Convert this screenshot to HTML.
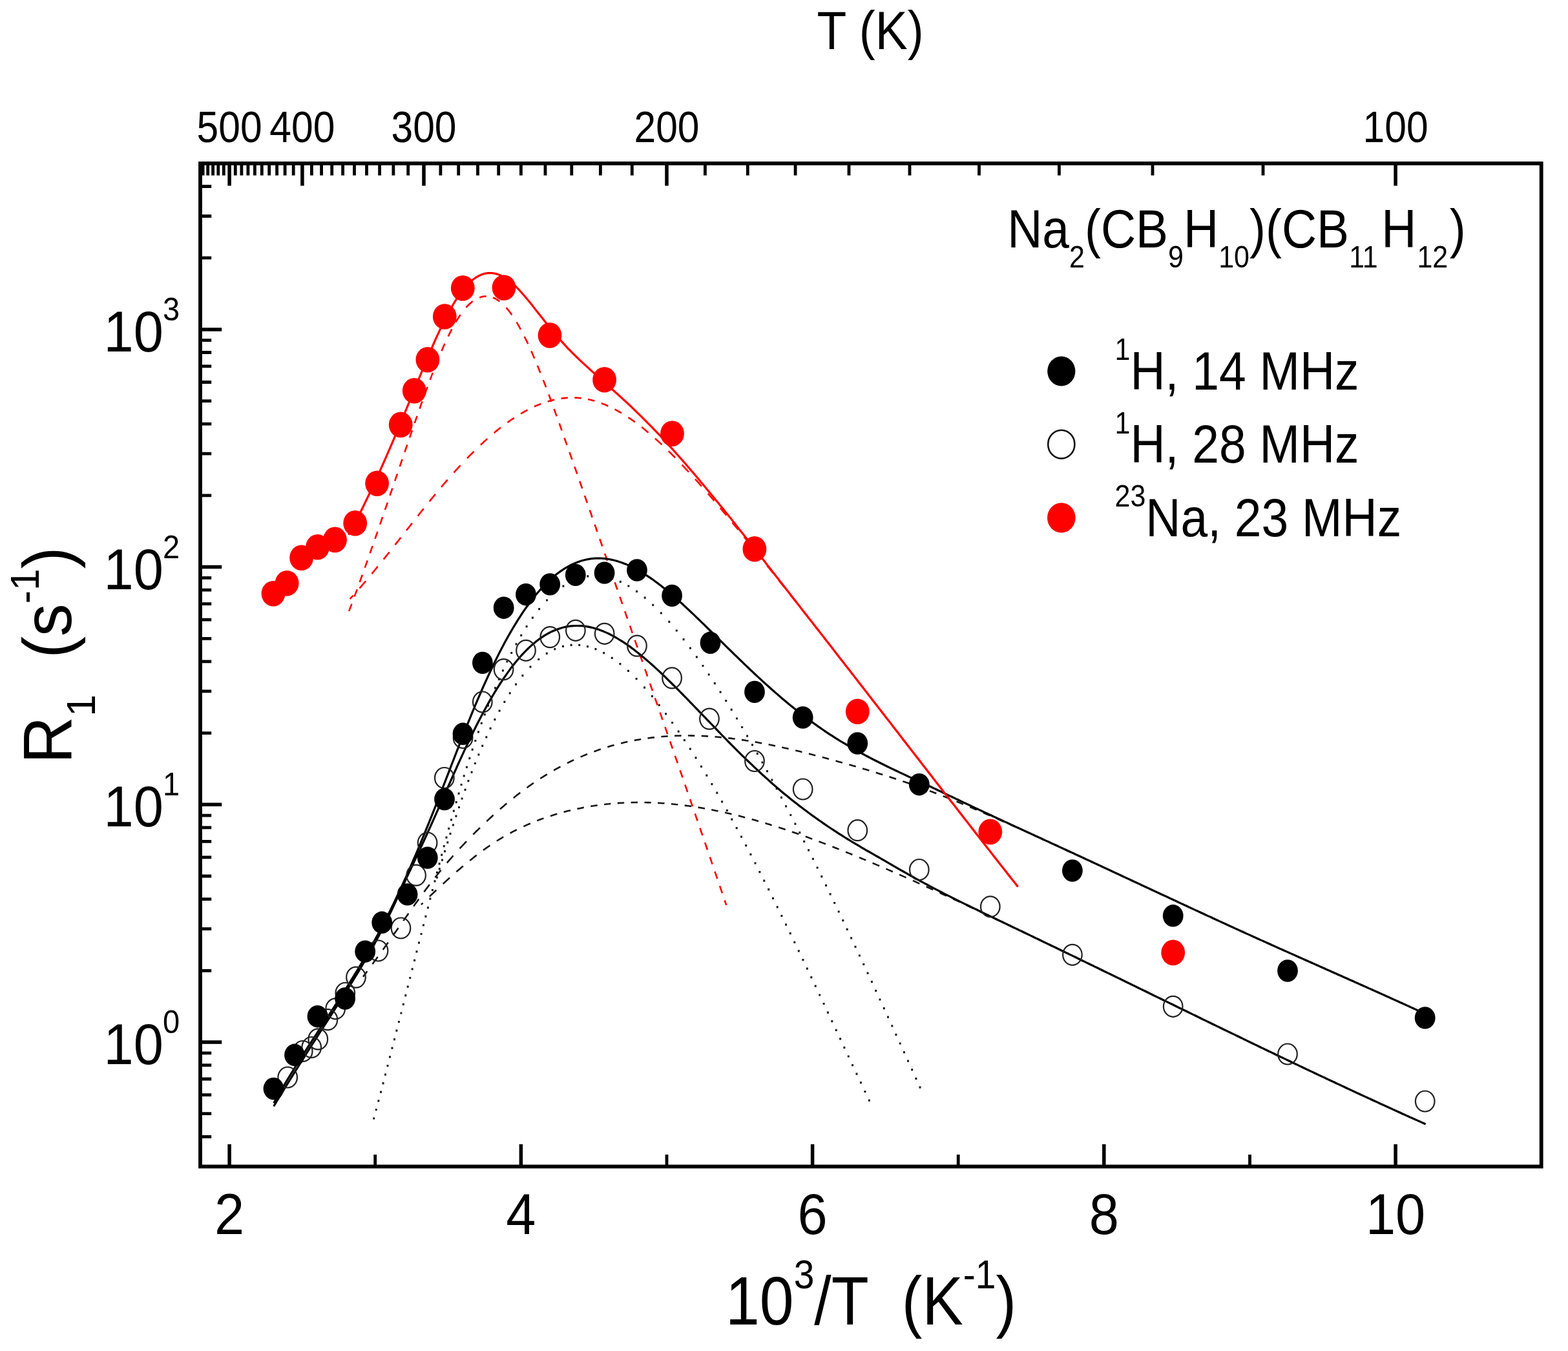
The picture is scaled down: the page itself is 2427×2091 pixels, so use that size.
<!DOCTYPE html>
<html lang="en"><head><meta charset="utf-8"><title>R1 vs 1000/T</title>
<style>
html,body{margin:0;padding:0;background:#fff;}
body{width:2427px;height:2091px;overflow:hidden;}
svg{display:block;filter:blur(0.75px);}
</style></head><body>
<svg width="2427" height="2091" viewBox="0 0 2427 2091" font-family="'Liberation Sans', Arial, Helvetica, sans-serif" fill="#000">
<rect x="0" y="0" width="2427" height="2091" fill="#fff"/>
<path d="M562.0 1511.8 L563.4 1509.9 L564.9 1508.0 L566.3 1506.0 L567.7 1504.1 L568.3 1503.3 M576.5 1492.2 L577.9 1490.3 L579.3 1488.3 L580.7 1486.4 L582.2 1484.5 L583.6 1482.5 L584.6 1481.1 M592.7 1469.9 L594.1 1467.9 L595.5 1466.0 L596.9 1464.0 L598.3 1462.1 L599.7 1460.1 L600.8 1458.7 M608.6 1447.6 L610.0 1445.6 L611.4 1443.6 L612.7 1441.7 L614.1 1439.7 L615.5 1437.7 L616.5 1436.3 M624.3 1425.1 L625.7 1423.2 L627.1 1421.2 L628.5 1419.2 L629.9 1417.3 L631.3 1415.3 L632.3 1413.8 M640.2 1402.8 L641.6 1400.8 L642.9 1398.8 L644.4 1396.9 L645.8 1395.0 L647.2 1393.0 L648.2 1391.5 M656.4 1380.4 L657.8 1378.5 L659.2 1376.6 L660.7 1374.6 L662.1 1372.7 L663.6 1370.8 L664.9 1369.1 M673.5 1358.0 L675.0 1356.1 L676.5 1354.2 L678.0 1352.4 L679.5 1350.5 L681.0 1348.6 L682.5 1346.8 M691.9 1335.6 L693.4 1333.7 L695.0 1331.9 L696.5 1330.1 L698.1 1328.3 L699.7 1326.5 L701.3 1324.7 L701.6 1324.4 M711.6 1313.3 L713.2 1311.5 L714.9 1309.8 L716.5 1308.0 L718.2 1306.3 L719.8 1304.5 L721.5 1302.8 L722.0 1302.2 M732.4 1291.6 L734.0 1289.9 L735.7 1288.2 L737.4 1286.5 L739.2 1284.8 L740.9 1283.1 L742.6 1281.5 L742.9 1281.2 M753.3 1271.2 L755.0 1269.6 L756.8 1267.9 L758.5 1266.3 L760.3 1264.7 L762.0 1263.0 L763.7 1261.6 M774.0 1252.4 L775.8 1250.8 L777.6 1249.2 L779.4 1247.7 L781.2 1246.1 L783.1 1244.5 L784.4 1243.4 M794.8 1234.9 L796.7 1233.4 L798.6 1231.9 L800.5 1230.4 L802.4 1229.0 L804.3 1227.5 L805.2 1226.8 M815.5 1219.2 L817.5 1217.8 L819.4 1216.4 L821.4 1215.0 L823.3 1213.6 L825.3 1212.3 L826.0 1211.8 M836.3 1205.0 L838.3 1203.7 L840.4 1202.4 L842.4 1201.1 L844.4 1199.8 L846.5 1198.6 L846.8 1198.4 M857.2 1192.3 L859.2 1191.1 L861.3 1189.9 L863.4 1188.8 L865.5 1187.6 L867.5 1186.6 M878.0 1181.1 L880.1 1180.1 L882.3 1179.0 L884.4 1178.0 L886.6 1176.9 L888.2 1176.2 M898.6 1171.5 L900.8 1170.6 L903.0 1169.6 L905.3 1168.7 L907.5 1167.8 L909.1 1167.1 M919.4 1163.2 L921.7 1162.4 L923.9 1161.6 L926.2 1160.8 L928.5 1160.0 L929.8 1159.5 M940.3 1156.2 L942.6 1155.5 L944.9 1154.8 L947.2 1154.1 L949.5 1153.5 L950.6 1153.2 M961.1 1150.5 L963.4 1149.9 L965.8 1149.3 L968.1 1148.8 L970.4 1148.3 L971.4 1148.1 M981.8 1145.9 L984.2 1145.5 L986.5 1145.1 L988.9 1144.7 L991.2 1144.3 L992.2 1144.1 M1002.5 1142.6 L1004.9 1142.2 L1007.3 1141.9 L1009.7 1141.6 L1012.0 1141.4 L1013.0 1141.3 M1023.4 1140.2 L1025.8 1140.0 L1028.2 1139.8 L1030.6 1139.7 L1033.0 1139.5 L1033.8 1139.5 M1044.1 1138.9 L1046.5 1138.8 L1048.9 1138.7 L1051.3 1138.7 L1053.7 1138.6 L1054.5 1138.6 M1064.9 1138.5 L1067.3 1138.5 L1069.7 1138.6 L1072.1 1138.6 L1074.5 1138.7 L1075.3 1138.7 M1085.7 1139.0 L1088.1 1139.1 L1090.5 1139.3 L1092.9 1139.4 L1095.3 1139.5 L1096.1 1139.6 M1106.5 1140.3 L1108.9 1140.5 L1111.3 1140.7 L1113.7 1140.9 L1116.0 1141.2 L1116.8 1141.3 M1127.2 1142.4 L1129.6 1142.6 L1132.0 1142.9 L1134.3 1143.2 L1136.7 1143.5 L1137.7 1143.7 M1148.0 1145.1 L1150.4 1145.4 L1152.8 1145.8 L1155.1 1146.2 L1157.5 1146.5 L1158.5 1146.7 M1168.7 1148.4 L1171.1 1148.8 L1173.5 1149.2 L1175.8 1149.7 L1178.2 1150.1 L1179.2 1150.3 M1189.6 1152.3 L1191.9 1152.8 L1194.3 1153.2 L1196.6 1153.7 L1199.0 1154.2 L1200.0 1154.4 M1210.3 1156.6 L1212.7 1157.2 L1215.0 1157.7 L1217.4 1158.2 L1219.7 1158.8 L1220.7 1159.0 M1231.2 1161.4 L1233.5 1162.0 L1235.8 1162.6 L1238.2 1163.1 L1240.5 1163.7 L1241.5 1163.9 M1252.0 1166.6 L1254.3 1167.2 L1256.6 1167.8 L1258.9 1168.4 L1261.3 1169.0 L1262.2 1169.2 M1272.7 1172.0 L1275.0 1172.6 L1277.3 1173.2 L1279.6 1173.8 L1281.9 1174.5 L1283.1 1174.8 M1293.5 1177.6 L1295.8 1178.3 L1298.1 1178.9 L1300.4 1179.5 L1302.8 1180.2 L1303.9 1180.5 M1314.3 1183.5 L1316.6 1184.1 L1318.9 1184.8 L1321.2 1185.4 L1323.5 1186.1 L1324.7 1186.4 M1335.1 1189.5 L1337.4 1190.2 L1339.7 1190.8 L1341.9 1191.5 L1344.2 1192.2 L1345.4 1192.6 M1355.7 1195.7 L1358.0 1196.4 L1360.3 1197.2 L1362.6 1197.9 L1364.9 1198.6 L1366.2 1199.0 M1376.5 1202.3 L1378.8 1203.0 L1381.1 1203.8 L1383.4 1204.5 L1385.6 1205.3 L1387.0 1205.7 M1397.4 1209.2 L1399.7 1210.0 L1401.9 1210.8 L1404.2 1211.6 L1406.5 1212.3 L1407.8 1212.8 M1418.2 1216.5 L1420.4 1217.3 L1422.7 1218.1 L1424.9 1218.9 L1427.2 1219.7 L1428.5 1220.2 M1439.0 1224.1 L1441.2 1225.0 L1443.5 1225.8 L1445.7 1226.7 L1448.0 1227.5 L1449.3 1228.0 M1459.7 1232.1 L1462.0 1233.0 L1464.2 1233.9 L1466.4 1234.7 L1468.6 1235.6 L1470.1 1236.2 M1480.5 1240.4 L1482.7 1241.3 L1485.0 1242.2 L1487.2 1243.1 L1489.4 1244.1 L1490.9 1244.7 M1501.2 1249.0 L1503.4 1249.9 L1505.6 1250.8 L1507.8 1251.8 L1510.1 1252.7 L1511.7 1253.4 M1522.0 1257.8 L1524.2 1258.8 L1526.4 1259.7 L1528.6 1260.7 L1530.8 1261.6 L1532.5 1262.4 M1542.7 1266.9 L1544.9 1267.8 L1547.1 1268.8 L1549.3 1269.8 L1551.5 1270.7 L1553.2 1271.5 M1563.6 1276.1 L1565.8 1277.1 L1567.9 1278.1 L1570.1 1279.0 L1572.3 1280.0 L1574.0 1280.8 M1584.4 1285.5 L1586.5 1286.4 L1588.7 1287.4 L1590.9 1288.4 L1593.1 1289.4 L1594.7 1290.2 M1605.1 1294.9 L1607.3 1295.9 L1609.5 1296.9 L1611.7 1297.9 L1613.9 1298.9 L1615.5 1299.6 M1625.9 1304.4 L1628.0 1305.4 L1630.2 1306.4 L1632.4 1307.4 L1634.6 1308.4 L1636.4 1309.2 M1646.8 1314.0 L1648.9 1315.0 L1651.1 1316.0 L1653.3 1317.0 L1655.5 1318.0 L1657.1 1318.7 M1667.5 1323.5 L1669.6 1324.5 L1671.8 1325.5 L1674.0 1326.5 L1676.2 1327.6 L1677.8 1328.3 M1688.3 1333.2 L1690.5 1334.2 L1692.7 1335.2 L1694.8 1336.2 L1697.0 1337.2 L1698.7 1338.0 M1709.0 1342.8 L1711.2 1343.8 L1713.3 1344.8 L1715.5 1345.8 L1717.7 1346.9 L1719.5 1347.7 M1729.8 1352.5 L1732.0 1353.5 L1734.2 1354.5 L1736.4 1355.6 L1738.5 1356.6 L1740.2 1357.3 M1750.5 1362.1 L1752.7 1363.2 L1754.9 1364.2 L1757.0 1365.2 L1759.2 1366.2 L1761.0 1367.0 M1771.4 1371.9 L1773.5 1372.9 L1775.7 1373.9 L1777.9 1374.9 L1780.1 1375.9 L1781.9 1376.8 M1792.2 1381.6 L1794.4 1382.6 L1796.5 1383.6 L1798.7 1384.6 L1800.9 1385.6 L1802.5 1386.4 M1812.9 1391.2 L1815.0 1392.2 L1817.2 1393.2 L1819.4 1394.2 L1821.6 1395.3 L1823.4 1396.1 M1833.7 1400.9 L1835.9 1401.9 L1838.1 1402.9 L1840.3 1403.9 L1842.4 1404.9 L1844.1 1405.7 M1854.4 1410.5 L1856.6 1411.5 L1858.8 1412.5 L1860.9 1413.5 L1863.1 1414.5 L1864.9 1415.4 M1875.3 1420.1 L1877.5 1421.1 L1879.6 1422.1 L1881.8 1423.2 L1884.0 1424.2 L1885.6 1424.9 M1896.0 1429.7 L1898.2 1430.7 L1900.4 1431.7 L1902.5 1432.7 L1904.7 1433.7 L1906.5 1434.5 M1916.9 1439.2 L1919.1 1440.2 L1921.3 1441.2 L1923.5 1442.2 L1925.6 1443.2 L1927.3 1444.0 M1937.7 1448.7 L1939.9 1449.7 L1942.0 1450.6 L1944.2 1451.6 L1946.4 1452.6 L1948.1 1453.4 M1958.4 1458.1 L1960.6 1459.0 L1962.8 1460.0 L1965.0 1461.0 L1967.2 1462.0 L1968.8 1462.7 M1979.2 1467.4 L1981.4 1468.4 L1983.6 1469.4 L1985.8 1470.3 L1988.0 1471.3 L1989.6 1472.1 M1999.9 1476.6 L2002.1 1477.6 L2004.3 1478.6 L2006.4 1479.6 L2008.6 1480.5 L2010.3 1481.3 M2020.7 1485.9 L2022.9 1486.9 L2025.1 1487.9 L2027.3 1488.8 L2029.5 1489.8 L2031.1 1490.5 M2041.5 1495.2 L2043.7 1496.2 L2045.9 1497.1 L2048.1 1498.1 L2050.3 1499.1 L2051.9 1499.8 M2062.4 1504.4 L2064.5 1505.4 L2066.7 1506.4 L2068.9 1507.4 L2071.1 1508.3 L2072.8 1509.1 M2083.0 1513.6 L2085.2 1514.6 L2087.4 1515.6 L2089.6 1516.6 L2091.8 1517.5 L2093.4 1518.3 M2103.8 1522.9 L2106.0 1523.9 L2108.2 1524.9 L2110.4 1525.9 L2112.6 1526.8 L2114.2 1527.6 M2124.6 1532.2 L2126.8 1533.2 L2129.0 1534.2 L2131.2 1535.2 L2133.4 1536.2 L2135.0 1536.9 M2145.4 1541.6 L2147.6 1542.6 L2149.8 1543.5 L2152.0 1544.5 L2154.2 1545.5 L2155.8 1546.3 M2166.2 1551.0 L2168.4 1551.9 L2170.6 1552.9 L2172.8 1553.9 L2175.0 1554.9 L2176.6 1555.7 M2187.0 1560.4 L2189.2 1561.4 L2191.3 1562.4 L2193.5 1563.4 L2195.7 1564.4 L2197.3 1565.1" fill="none" stroke="#161616" stroke-width="2.6" stroke-linecap="butt"/>
<path d="M652.0 1400.1 L653.7 1398.4 L654.6 1397.6 M664.9 1387.6 L666.6 1385.9 L668.4 1384.3 L670.1 1382.6 L671.9 1381.0 L673.6 1379.3 L675.4 1377.7 M685.7 1368.0 L687.5 1366.4 L689.3 1364.8 L691.0 1363.1 L692.8 1361.5 L694.6 1359.9 L696.1 1358.6 M706.4 1349.4 L708.2 1347.8 L710.0 1346.3 L711.9 1344.7 L713.7 1343.1 L715.5 1341.6 L716.9 1340.4 M727.2 1331.9 L729.1 1330.4 L731.0 1328.9 L732.8 1327.4 L734.7 1325.9 L736.6 1324.5 L737.7 1323.6 M748.0 1315.9 L749.9 1314.5 L751.9 1313.1 L753.8 1311.8 L755.8 1310.4 L757.8 1309.0 L758.5 1308.6 M768.8 1301.7 L770.8 1300.5 L772.9 1299.2 L774.9 1298.0 L777.0 1296.7 L779.0 1295.5 L779.2 1295.4 M789.7 1289.5 L791.8 1288.3 L793.9 1287.2 L796.0 1286.1 L798.2 1285.0 L799.9 1284.1 M810.4 1279.1 L812.6 1278.1 L814.8 1277.1 L817.0 1276.1 L819.2 1275.2 L820.8 1274.5 M831.2 1270.2 L833.4 1269.4 L835.7 1268.5 L837.9 1267.7 L840.2 1266.9 L841.5 1266.4 M851.9 1262.9 L854.2 1262.2 L856.5 1261.4 L858.8 1260.7 L861.1 1260.1 L862.4 1259.7 M872.6 1256.8 L875.0 1256.2 L877.3 1255.6 L879.6 1255.0 L881.9 1254.5 L883.1 1254.2 M893.4 1251.8 L895.8 1251.4 L898.1 1250.9 L900.5 1250.4 L902.9 1249.9 L903.8 1249.8 M914.3 1247.9 L916.7 1247.5 L919.0 1247.2 L921.4 1246.8 L923.8 1246.5 L924.8 1246.3 M935.1 1245.0 L937.5 1244.8 L939.8 1244.5 L942.2 1244.3 L944.6 1244.0 L945.4 1244.0 M955.8 1243.1 L958.2 1242.9 L960.6 1242.8 L963.0 1242.7 L965.4 1242.5 L966.2 1242.5 M976.6 1242.1 L979.0 1242.0 L981.4 1242.0 L983.8 1242.0 L986.2 1241.9 L987.0 1241.9 M997.4 1242.0 L999.8 1242.0 L1002.2 1242.1 L1004.6 1242.1 L1006.9 1242.2 L1007.7 1242.3 M1018.1 1242.7 L1020.5 1242.9 L1022.9 1243.0 L1025.3 1243.2 L1027.7 1243.3 L1028.5 1243.4 M1038.9 1244.2 L1041.3 1244.5 L1043.7 1244.7 L1046.0 1245.0 L1048.4 1245.2 L1049.4 1245.3 M1059.7 1246.6 L1062.1 1246.9 L1064.5 1247.2 L1066.9 1247.5 L1069.3 1247.9 L1070.1 1248.0 M1080.5 1249.6 L1082.9 1250.0 L1085.3 1250.4 L1087.6 1250.8 L1090.0 1251.2 L1091.0 1251.4 M1101.2 1253.3 L1103.6 1253.7 L1105.9 1254.2 L1108.3 1254.7 L1110.6 1255.1 L1111.6 1255.3 M1122.1 1257.6 L1124.5 1258.2 L1126.8 1258.7 L1129.2 1259.2 L1131.5 1259.8 L1132.5 1260.0 M1142.8 1262.5 L1145.1 1263.1 L1147.4 1263.7 L1149.7 1264.3 L1152.1 1264.9 L1153.2 1265.2 M1163.7 1268.1 L1166.0 1268.7 L1168.3 1269.3 L1170.6 1270.0 L1172.9 1270.7 L1174.0 1271.0 M1184.4 1274.1 L1186.7 1274.7 L1189.0 1275.4 L1191.3 1276.1 L1193.6 1276.9 L1194.7 1277.2 M1205.2 1280.5 L1207.5 1281.3 L1209.8 1282.0 L1212.1 1282.8 L1214.3 1283.5 L1215.7 1284.0 M1225.9 1287.4 L1228.2 1288.2 L1230.4 1289.0 L1232.7 1289.8 L1235.0 1290.6 L1236.3 1291.0 M1246.8 1294.8 L1249.1 1295.6 L1251.3 1296.4 L1253.6 1297.3 L1255.9 1298.1 L1257.2 1298.6 M1267.5 1302.4 L1269.7 1303.2 L1272.0 1304.1 L1274.2 1304.9 L1276.4 1305.8 L1277.9 1306.4 M1288.4 1310.4 L1290.6 1311.3 L1292.9 1312.2 L1295.1 1313.0 L1297.3 1313.9 L1298.6 1314.4 M1309.0 1318.6 L1311.2 1319.5 L1313.5 1320.4 L1315.7 1321.3 L1317.9 1322.2 L1319.4 1322.8 M1329.9 1327.1 L1332.2 1328.0 L1334.4 1329.0 L1336.6 1329.9 L1338.8 1330.8 L1340.3 1331.4 M1350.6 1335.8 L1352.8 1336.7 L1355.0 1337.6 L1357.2 1338.6 L1359.5 1339.5 L1361.1 1340.2 M1371.4 1344.6 L1373.6 1345.6 L1375.8 1346.6 L1378.0 1347.5 L1380.2 1348.5 L1381.9 1349.2 M1392.1 1353.7 L1394.3 1354.6 L1396.5 1355.6 L1398.7 1356.6 L1400.9 1357.6 L1402.5 1358.3 M1413.0 1362.9 L1415.1 1363.9 L1417.3 1364.9 L1419.5 1365.9 L1421.7 1366.9 L1423.3 1367.6 M1433.7 1372.3 L1435.9 1373.3 L1438.1 1374.3 L1440.3 1375.3 L1442.5 1376.3 L1444.1 1377.0 M1454.5 1381.8 L1456.7 1382.8 L1458.8 1383.8 L1461.0 1384.8 L1463.2 1385.8 L1465.0 1386.6 M1475.4 1391.4 L1477.5 1392.4 L1479.7 1393.4 L1481.9 1394.4 L1484.1 1395.4 L1485.7 1396.2 M1496.0 1401.0 L1498.2 1402.0 L1500.4 1403.1 L1502.5 1404.1 L1504.7 1405.1 L1506.5 1406.0 M1516.8 1410.8 L1519.0 1411.8 L1521.2 1412.9 L1523.3 1413.9 L1525.5 1414.9 L1527.3 1415.8 M1537.6 1420.6 L1539.8 1421.7 L1542.0 1422.7 L1544.1 1423.7 L1546.3 1424.7 L1548.1 1425.6 M1558.4 1430.5 L1560.6 1431.5 L1562.7 1432.6 L1564.9 1433.6 L1567.1 1434.6 L1568.9 1435.5 M1579.2 1440.4 L1581.3 1441.4 L1583.5 1442.5 L1585.7 1443.5 L1587.8 1444.5 L1589.6 1445.4 M1599.9 1450.3 L1602.1 1451.4 L1604.2 1452.4 L1606.4 1453.4 L1608.6 1454.5 L1610.4 1455.4 M1620.8 1460.4 L1623.0 1461.4 L1625.1 1462.5 L1627.3 1463.5 L1629.5 1464.6 L1631.1 1465.3 M1641.5 1470.4 L1643.7 1471.4 L1645.8 1472.5 L1648.0 1473.5 L1650.2 1474.6 L1652.0 1475.4 M1662.4 1480.5 L1664.6 1481.5 L1666.7 1482.6 L1668.9 1483.6 L1671.0 1484.7 L1672.7 1485.5 M1683.1 1490.5 L1685.3 1491.6 L1687.4 1492.6 L1689.6 1493.7 L1691.7 1494.7 L1693.5 1495.6 M1704.0 1500.7 L1706.1 1501.7 L1708.3 1502.8 L1710.4 1503.8 L1712.6 1504.9 L1714.2 1505.7 M1724.6 1510.7 L1726.8 1511.8 L1729.0 1512.8 L1731.1 1513.9 L1733.3 1514.9 L1735.1 1515.8 M1745.5 1520.9 L1747.7 1521.9 L1749.8 1523.0 L1752.0 1524.1 L1754.1 1525.1 L1755.9 1526.0 M1766.2 1531.0 L1768.3 1532.0 L1770.5 1533.1 L1772.6 1534.1 L1774.8 1535.2 L1776.6 1536.1 M1787.0 1541.2 L1789.2 1542.2 L1791.3 1543.3 L1793.5 1544.3 L1795.6 1545.4 L1797.4 1546.2 M1807.7 1551.2 L1809.8 1552.3 L1812.0 1553.3 L1814.2 1554.4 L1816.3 1555.4 L1818.1 1556.3 M1828.5 1561.4 L1830.7 1562.5 L1832.8 1563.5 L1835.0 1564.6 L1837.2 1565.6 L1839.0 1566.5 M1849.4 1571.6 L1851.5 1572.6 L1853.7 1573.7 L1855.9 1574.7 L1858.0 1575.8 L1859.8 1576.6 M1870.1 1581.6 L1872.2 1582.7 L1874.4 1583.7 L1876.5 1584.8 L1878.7 1585.8 L1880.5 1586.7 M1890.9 1591.8 L1893.1 1592.8 L1895.3 1593.9 L1897.4 1594.9 L1899.6 1596.0 L1901.4 1596.8 M1911.6 1601.8 L1913.8 1602.8 L1916.0 1603.9 L1918.1 1604.9 L1920.3 1606.0 L1922.1 1606.8 M1932.5 1611.9 L1934.7 1612.9 L1936.8 1614.0 L1939.0 1615.0 L1941.2 1616.1 L1942.8 1616.8 M1953.2 1621.9 L1955.4 1622.9 L1957.6 1624.0 L1959.7 1625.0 L1961.9 1626.0 L1963.7 1626.9 M1974.0 1631.8 L1976.1 1632.9 L1978.3 1633.9 L1980.5 1634.9 L1982.6 1636.0 L1984.4 1636.8 M1994.7 1641.8 L1996.9 1642.8 L1999.0 1643.8 L2001.2 1644.9 L2003.4 1645.9 L2005.2 1646.7 M2015.5 1651.6 L2017.6 1652.7 L2019.8 1653.7 L2022.0 1654.7 L2024.2 1655.8 L2026.0 1656.6 M2036.3 1661.5 L2038.4 1662.5 L2040.6 1663.5 L2042.8 1664.6 L2044.9 1665.6 L2046.8 1666.4 M2057.1 1671.3 L2059.2 1672.3 L2061.4 1673.3 L2063.6 1674.4 L2065.8 1675.4 L2067.6 1676.2 M2077.9 1681.1 L2080.1 1682.1 L2082.2 1683.1 L2084.4 1684.1 L2086.6 1685.1 L2088.2 1685.9 M2098.7 1690.8 L2100.9 1691.8 L2103.1 1692.8 L2105.3 1693.8 L2107.4 1694.8 L2109.1 1695.6 M2119.4 1700.3 L2121.6 1701.3 L2123.8 1702.3 L2126.0 1703.3 L2128.2 1704.3 L2129.8 1705.1 M2140.2 1709.8 L2142.3 1710.8 L2144.5 1711.8 L2146.7 1712.8 L2148.9 1713.8 L2150.7 1714.7 M2161.1 1719.4 L2163.3 1720.4 L2165.5 1721.4 L2167.6 1722.3 L2169.8 1723.3 L2171.5 1724.1 M2181.9 1728.8 L2184.0 1729.7 L2186.2 1730.7 L2188.4 1731.7 L2190.6 1732.7 L2192.3 1733.4 M2202.5 1738.0 L2204.7 1739.0 L2206.5 1739.8" fill="none" stroke="#161616" stroke-width="2.6" stroke-linecap="butt"/>
<path d="M577.2 1729.4h3.0v3.2h-3.0z M580.8 1715.9h3.0v3.2h-3.0z M584.4 1702.3h3.0v3.2h-3.0z M588.0 1688.6h3.0v3.2h-3.0z M591.5 1675.0h3.0v3.2h-3.0z M595.0 1661.5h3.0v3.2h-3.0z M598.5 1647.9h3.0v3.2h-3.0z M602.0 1634.2h3.0v3.2h-3.0z M605.5 1620.6h3.0v3.2h-3.0z M609.0 1607.1h3.0v3.2h-3.0z M612.4 1593.5h3.0v3.2h-3.0z M615.9 1579.9h3.0v3.2h-3.0z M619.4 1566.4h3.0v3.2h-3.0z M622.8 1552.8h3.0v3.2h-3.0z M626.3 1539.0h3.0v3.2h-3.0z M629.7 1525.5h3.0v3.2h-3.0z M633.2 1511.9h3.0v3.2h-3.0z M636.6 1498.3h3.0v3.2h-3.0z M640.1 1484.7h3.0v3.2h-3.0z M643.5 1471.2h3.0v3.2h-3.0z M647.0 1457.6h3.0v3.2h-3.0z M650.5 1443.9h3.0v3.2h-3.0z M653.9 1430.3h3.0v3.2h-3.0z M657.4 1416.7h3.0v3.2h-3.0z M660.9 1403.2h3.0v3.2h-3.0z M664.4 1389.6h3.0v3.2h-3.0z M667.9 1376.1h3.0v3.2h-3.0z M671.5 1362.3h3.0v3.2h-3.0z M675.0 1348.8h3.0v3.2h-3.0z M678.6 1335.2h3.0v3.2h-3.0z M682.2 1321.5h3.0v3.2h-3.0z M685.8 1308.0h3.0v3.2h-3.0z M689.5 1294.5h3.0v3.2h-3.0z M693.2 1280.8h3.0v3.2h-3.0z M697.0 1267.3h3.0v3.2h-3.0z M700.8 1253.6h3.0v3.2h-3.0z M704.7 1240.0h3.0v3.2h-3.0z M708.6 1226.5h3.0v3.2h-3.0z M712.6 1212.9h3.0v3.2h-3.0z M716.7 1199.3h3.0v3.2h-3.0z M720.9 1185.7h3.0v3.2h-3.0z M725.3 1172.0h3.0v3.2h-3.0z M729.7 1158.5h3.0v3.2h-3.0z M734.3 1144.9h3.0v3.2h-3.0z M739.0 1131.2h3.0v3.2h-3.0z M743.8 1117.7h3.0v3.2h-3.0z M748.8 1104.2h3.0v3.2h-3.0z M754.0 1090.5h3.0v3.2h-3.0z M759.3 1077.0h3.0v3.2h-3.0z M765.0 1063.3h3.0v3.2h-3.0z M770.8 1049.7h3.0v3.2h-3.0z M776.9 1036.2h3.0v3.2h-3.0z M783.4 1022.4h3.0v3.2h-3.0z M790.2 1008.9h3.0v3.2h-3.0z M797.5 995.3h3.0v3.2h-3.0z M805.2 981.7h3.0v3.2h-3.0z M813.6 968.1h3.0v3.2h-3.0z M822.9 954.6h3.0v3.2h-3.0z M833.1 941.0h3.0v3.2h-3.0z M845.1 927.4h3.0v3.2h-3.0z M857.7 915.4h3.0v3.2h-3.0z M870.4 905.6h3.0v3.2h-3.0z M883.0 898.3h3.0v3.2h-3.0z M895.6 893.2h3.0v3.2h-3.0z M908.3 890.3h3.0v3.2h-3.0z M920.8 889.4h3.0v3.2h-3.0z M933.6 890.6h3.0v3.2h-3.0z M946.2 893.8h3.0v3.2h-3.0z M958.8 898.7h3.0v3.2h-3.0z M971.4 905.4h3.0v3.2h-3.0z M984.1 913.7h3.0v3.2h-3.0z M996.7 923.5h3.0v3.2h-3.0z M1009.2 934.7h3.0v3.2h-3.0z M1021.8 947.3h3.0v3.2h-3.0z M1034.3 960.8h3.0v3.2h-3.0z M1045.8 974.4h3.0v3.2h-3.0z M1056.6 988.0h3.0v3.2h-3.0z M1066.9 1001.5h3.0v3.2h-3.0z M1076.9 1015.3h3.0v3.2h-3.0z M1086.5 1028.9h3.0v3.2h-3.0z M1095.7 1042.4h3.0v3.2h-3.0z M1104.8 1056.0h3.0v3.2h-3.0z M1113.6 1069.6h3.0v3.2h-3.0z M1122.2 1083.1h3.0v3.2h-3.0z M1130.7 1096.7h3.0v3.2h-3.0z M1139.0 1110.4h3.0v3.2h-3.0z M1147.1 1123.9h3.0v3.2h-3.0z M1155.1 1137.6h3.0v3.2h-3.0z M1163.0 1151.2h3.0v3.2h-3.0z M1170.8 1164.8h3.0v3.2h-3.0z M1178.4 1178.4h3.0v3.2h-3.0z M1186.0 1192.0h3.0v3.2h-3.0z M1193.4 1205.5h3.0v3.2h-3.0z M1200.7 1219.1h3.0v3.2h-3.0z M1208.0 1232.7h3.0v3.2h-3.0z M1215.1 1246.3h3.0v3.2h-3.0z M1222.3 1259.9h3.0v3.2h-3.0z M1229.4 1273.6h3.0v3.2h-3.0z M1236.3 1287.1h3.0v3.2h-3.0z M1243.2 1300.7h3.0v3.2h-3.0z M1250.1 1314.2h3.0v3.2h-3.0z M1256.9 1327.8h3.0v3.2h-3.0z M1263.6 1341.4h3.0v3.2h-3.0z M1270.3 1355.1h3.0v3.2h-3.0z M1277.0 1368.7h3.0v3.2h-3.0z M1283.6 1382.2h3.0v3.2h-3.0z M1290.2 1395.9h3.0v3.2h-3.0z M1296.7 1409.4h3.0v3.2h-3.0z M1303.3 1423.1h3.0v3.2h-3.0z M1309.7 1436.7h3.0v3.2h-3.0z M1316.1 1450.2h3.0v3.2h-3.0z M1322.5 1463.8h3.0v3.2h-3.0z M1328.9 1477.4h3.0v3.2h-3.0z M1335.3 1490.9h3.0v3.2h-3.0z M1341.6 1504.5h3.0v3.2h-3.0z M1347.9 1518.1h3.0v3.2h-3.0z M1354.2 1531.8h3.0v3.2h-3.0z M1360.5 1545.4h3.0v3.2h-3.0z M1366.8 1559.0h3.0v3.2h-3.0z M1373.0 1572.6h3.0v3.2h-3.0z M1379.3 1586.3h3.0v3.2h-3.0z M1385.4 1599.7h3.0v3.2h-3.0z M1391.7 1613.4h3.0v3.2h-3.0z M1397.9 1627.0h3.0v3.2h-3.0z M1404.0 1640.5h3.0v3.2h-3.0z M1410.2 1654.1h3.0v3.2h-3.0z M1416.4 1667.8h3.0v3.2h-3.0z M1422.5 1681.3h3.0v3.2h-3.0z" fill="#1c1c1c" stroke="none"/>
<path d="M674.9 1356.6h3.0v3.2h-3.0z M678.8 1343.2h3.0v3.2h-3.0z M682.9 1329.6h3.0v3.2h-3.0z M687.0 1316.0h3.0v3.2h-3.0z M691.3 1302.2h3.0v3.2h-3.0z M695.5 1288.7h3.0v3.2h-3.0z M699.9 1275.2h3.0v3.2h-3.0z M704.4 1261.5h3.0v3.2h-3.0z M709.0 1247.9h3.0v3.2h-3.0z M713.6 1234.4h3.0v3.2h-3.0z M718.5 1220.7h3.0v3.2h-3.0z M723.4 1207.1h3.0v3.2h-3.0z M728.6 1193.5h3.0v3.2h-3.0z M733.9 1179.9h3.0v3.2h-3.0z M739.4 1166.4h3.0v3.2h-3.0z M745.2 1152.8h3.0v3.2h-3.0z M751.3 1139.3h3.0v3.2h-3.0z M757.6 1125.7h3.0v3.2h-3.0z M764.4 1112.1h3.0v3.2h-3.0z M771.6 1098.5h3.0v3.2h-3.0z M779.4 1084.7h3.0v3.2h-3.0z M787.7 1071.3h3.0v3.2h-3.0z M797.1 1057.6h3.0v3.2h-3.0z M807.4 1044.1h3.0v3.2h-3.0z M819.5 1030.5h3.0v3.2h-3.0z M832.2 1018.9h3.0v3.2h-3.0z M844.8 1009.7h3.0v3.2h-3.0z M857.3 1003.1h3.0v3.2h-3.0z M870.0 998.7h3.0v3.2h-3.0z M882.6 996.7h3.0v3.2h-3.0z M895.2 996.8h3.0v3.2h-3.0z M908.0 999.0h3.0v3.2h-3.0z M920.5 1003.0h3.0v3.2h-3.0z M933.2 1009.0h3.0v3.2h-3.0z M945.8 1016.7h3.0v3.2h-3.0z M958.4 1026.0h3.0v3.2h-3.0z M971.0 1036.8h3.0v3.2h-3.0z M983.6 1049.0h3.0v3.2h-3.0z M996.1 1062.5h3.0v3.2h-3.0z M1007.9 1076.1h3.0v3.2h-3.0z M1018.8 1089.7h3.0v3.2h-3.0z M1029.1 1103.2h3.0v3.2h-3.0z M1039.1 1116.9h3.0v3.2h-3.0z M1048.7 1130.5h3.0v3.2h-3.0z M1057.9 1144.0h3.0v3.2h-3.0z M1066.8 1157.6h3.0v3.2h-3.0z M1075.5 1171.2h3.0v3.2h-3.0z M1084.0 1184.8h3.0v3.2h-3.0z M1092.3 1198.5h3.0v3.2h-3.0z M1100.4 1212.0h3.0v3.2h-3.0z M1108.3 1225.5h3.0v3.2h-3.0z M1116.1 1239.2h3.0v3.2h-3.0z M1123.8 1252.8h3.0v3.2h-3.0z M1131.3 1266.5h3.0v3.2h-3.0z M1138.7 1280.0h3.0v3.2h-3.0z M1146.0 1293.5h3.0v3.2h-3.0z M1153.2 1307.1h3.0v3.2h-3.0z M1160.4 1320.8h3.0v3.2h-3.0z M1167.5 1334.4h3.0v3.2h-3.0z M1174.4 1348.0h3.0v3.2h-3.0z M1181.3 1361.5h3.0v3.2h-3.0z M1188.2 1375.1h3.0v3.2h-3.0z M1195.0 1388.7h3.0v3.2h-3.0z M1201.7 1402.3h3.0v3.2h-3.0z M1208.4 1415.9h3.0v3.2h-3.0z M1215.1 1429.6h3.0v3.2h-3.0z M1221.7 1443.1h3.0v3.2h-3.0z M1228.3 1456.7h3.0v3.2h-3.0z M1234.8 1470.3h3.0v3.2h-3.0z M1241.4 1484.0h3.0v3.2h-3.0z M1247.8 1497.5h3.0v3.2h-3.0z M1254.3 1511.1h3.0v3.2h-3.0z M1260.7 1524.6h3.0v3.2h-3.0z M1267.2 1538.4h3.0v3.2h-3.0z M1273.6 1551.9h3.0v3.2h-3.0z M1279.9 1565.5h3.0v3.2h-3.0z M1286.3 1579.1h3.0v3.2h-3.0z M1292.7 1592.7h3.0v3.2h-3.0z M1299.1 1606.2h3.0v3.2h-3.0z M1305.4 1619.8h3.0v3.2h-3.0z M1311.8 1633.4h3.0v3.2h-3.0z M1318.1 1647.0h3.0v3.2h-3.0z M1324.5 1660.6h3.0v3.2h-3.0z M1330.9 1674.1h3.0v3.2h-3.0z M1337.4 1687.9h3.0v3.2h-3.0z M1343.8 1701.5h3.0v3.2h-3.0z" fill="#1c1c1c" stroke="none"/>
<path d="M540.2 945.9 L541.0 943.6 L541.9 941.4 L542.7 939.1 L543.6 936.9 L544.4 934.6 M548.6 923.4 L549.4 921.1 L550.3 918.9 L551.1 916.6 L551.9 914.4 L552.7 912.1 M556.8 901.0 L557.6 898.8 L558.4 896.5 L559.2 894.3 L560.0 892.0 L560.8 889.8 M564.8 878.6 L565.6 876.4 L566.4 874.1 L567.2 871.9 L568.0 869.6 L568.7 867.5 M572.7 856.2 L573.5 853.9 L574.3 851.7 L575.1 849.4 L575.9 847.1 L576.6 845.1 M580.5 833.9 L581.3 831.7 L582.1 829.4 L582.9 827.1 L583.7 824.9 L584.4 822.8 M588.2 811.6 L589.0 809.4 L589.8 807.1 L590.6 804.8 L591.3 802.5 L592.1 800.3 M595.9 789.1 L596.7 786.8 L597.5 784.6 L598.3 782.3 L599.1 780.0 L599.8 777.9 M603.6 766.8 L604.3 764.5 L605.1 762.2 L605.9 760.0 L606.7 757.7 L607.4 755.6 M611.2 744.4 L612.0 742.2 L612.7 739.9 L613.5 737.6 L614.3 735.4 L615.0 733.3 M618.8 722.1 L619.6 719.8 L620.3 717.6 L621.1 715.3 L621.9 713.0 L622.6 710.9 M626.4 699.8 L627.2 697.5 L627.9 695.2 L628.7 692.9 L629.5 690.7 L630.3 688.4 M634.1 677.2 L634.9 675.0 L635.7 672.7 L636.4 670.4 L637.2 668.2 L637.9 666.1 M641.8 654.9 L642.6 652.7 L643.3 650.4 L644.1 648.1 L644.9 645.9 L645.6 643.8 M649.5 632.6 L650.3 630.4 L651.1 628.1 L651.9 625.8 L652.7 623.6 L653.5 621.3 M657.5 610.2 L658.3 608.0 L659.1 605.7 L659.9 603.4 L660.8 601.2 L661.6 598.9 M665.7 587.9 L666.5 585.6 L667.4 583.4 L668.2 581.1 L669.1 578.9 L669.9 576.7 M674.3 565.5 L675.2 563.2 L676.1 561.0 L677.0 558.8 L677.9 556.6 L678.8 554.4 L678.9 554.2 M683.5 543.1 L684.5 540.9 L685.4 538.7 L686.4 536.5 L687.4 534.3 L688.4 532.1 L688.5 531.9 M693.7 520.7 L694.8 518.6 L695.8 516.4 L696.9 514.3 L698.0 512.1 L699.1 510.0 L699.4 509.5 M705.6 498.3 L706.8 496.2 L708.1 494.2 L709.4 492.2 L710.7 490.1 L712.0 488.1 L712.7 487.2 M721.4 476.0 L723.0 474.2 L724.7 472.5 L726.4 470.8 L728.2 469.2 L730.0 467.6 L731.7 466.2 M742.2 460.4 L744.5 459.7 L746.8 459.1 L749.2 458.7 L751.6 458.6 L752.6 458.6 M762.9 460.6 L765.1 461.5 L767.3 462.6 L769.3 463.8 L771.3 465.1 L773.3 466.5 M783.6 476.2 L785.2 478.1 L786.7 479.9 L788.2 481.8 L789.6 483.7 L791.0 485.6 L792.3 487.4 M799.6 498.7 L800.8 500.7 L802.0 502.8 L803.2 504.9 L804.4 507.0 L805.5 509.1 L805.9 509.8 M811.7 521.0 L812.8 523.1 L813.9 525.3 L814.9 527.4 L816.0 529.6 L817.0 531.8 L817.2 532.3 M822.3 543.4 L823.3 545.6 L824.3 547.8 L825.2 550.0 L826.2 552.2 L827.1 554.4 L827.2 554.6 M831.9 565.8 L832.8 568.1 L833.7 570.3 L834.6 572.5 L835.5 574.7 L836.4 577.0 M840.8 588.1 L841.7 590.4 L842.6 592.6 L843.4 594.8 L844.3 597.1 L845.1 599.3 M849.4 610.6 L850.2 612.8 L851.0 615.1 L851.9 617.3 L852.7 619.6 L853.5 621.8 M857.6 632.9 L858.4 635.1 L859.2 637.4 L860.0 639.7 L860.9 641.9 L861.7 644.2 M865.7 655.3 L866.5 657.5 L867.3 659.8 L868.1 662.1 L868.9 664.3 L869.6 666.4 M873.6 677.7 L874.4 680.0 L875.2 682.2 L876.0 684.5 L876.8 686.7 L877.6 688.8 M881.5 699.9 L882.3 702.2 L883.1 704.5 L883.9 706.7 L884.7 709.0 L885.5 711.3 M889.4 722.4 L890.2 724.7 L891.0 726.9 L891.8 729.2 L892.6 731.5 L893.3 733.5 M897.2 744.7 L898.0 746.9 L898.8 749.2 L899.6 751.5 L900.4 753.7 L901.1 756.0 M905.0 767.1 L905.8 769.4 L906.6 771.7 L907.4 773.9 L908.2 776.2 L908.9 778.3 M912.8 789.4 L913.6 791.7 L914.4 794.0 L915.2 796.2 L915.9 798.5 L916.7 800.8 M920.6 811.9 L921.4 814.2 L922.2 816.4 L923.0 818.7 L923.7 821.0 L924.5 823.1 M928.3 834.2 L929.1 836.5 L929.9 838.7 L930.7 841.0 L931.5 843.3 L932.3 845.5 M936.1 856.7 L936.9 859.0 L937.7 861.2 L938.5 863.5 L939.3 865.8 L940.0 867.8 M943.9 879.0 L944.7 881.2 L945.4 883.5 L946.2 885.8 L947.0 888.1 L947.7 890.1 M951.6 901.3 L952.4 903.5 L953.2 905.8 L954.0 908.1 L954.8 910.3 L955.6 912.6 M959.4 923.8 L960.2 926.0 L961.0 928.3 L961.8 930.6 L962.6 932.8 L963.3 934.9 M967.2 946.0 L968.0 948.3 L968.7 950.6 L969.5 952.8 L970.3 955.1 L971.1 957.4 M975.0 968.5 L975.8 970.8 L976.6 973.1 L977.4 975.3 L978.1 977.6 L978.9 979.7 M982.7 990.8 L983.5 993.1 L984.3 995.4 L985.1 997.6 L985.9 999.9 L986.7 1002.2 M990.6 1013.3 L991.3 1015.6 L992.1 1017.8 L992.9 1020.1 L993.7 1022.4 L994.4 1024.4 M998.3 1035.6 L999.1 1037.9 L999.9 1040.1 L1000.7 1042.4 L1001.5 1044.7 L1002.2 1046.7 M1006.0 1057.9 L1006.8 1060.1 L1007.6 1062.4 L1008.4 1064.7 L1009.2 1066.9 L1010.0 1069.2 M1013.9 1080.4 L1014.6 1082.6 L1015.4 1084.9 L1016.2 1087.2 L1017.0 1089.4 L1017.7 1091.5 M1021.6 1102.7 L1022.4 1104.9 L1023.2 1107.2 L1024.0 1109.5 L1024.7 1111.7 L1025.5 1114.0 M1029.4 1125.1 L1030.2 1127.4 L1031.0 1129.7 L1031.8 1131.9 L1032.5 1134.2 L1033.3 1136.3 M1037.1 1147.4 L1037.9 1149.7 L1038.7 1152.0 L1039.5 1154.2 L1040.3 1156.5 L1041.0 1158.6 M1044.9 1169.9 L1045.7 1172.2 L1046.5 1174.5 L1047.3 1176.7 L1048.1 1179.0 L1048.8 1181.1 M1052.6 1192.2 L1053.4 1194.5 L1054.2 1196.8 L1055.0 1199.0 L1055.8 1201.3 L1056.5 1203.4 M1060.3 1214.5 L1061.1 1216.8 L1061.9 1219.1 L1062.7 1221.3 L1063.5 1223.6 L1064.2 1225.9 M1068.1 1237.0 L1068.9 1239.3 L1069.7 1241.6 L1070.4 1243.8 L1071.2 1246.1 L1071.9 1248.2 M1075.8 1259.3 L1076.6 1261.6 L1077.3 1263.9 L1078.1 1266.1 L1078.9 1268.4 L1079.6 1270.5 M1083.5 1281.7 L1084.2 1283.9 L1085.0 1286.2 L1085.8 1288.5 L1086.6 1290.7 L1087.3 1292.8 M1091.1 1304.0 L1091.9 1306.2 L1092.7 1308.5 L1093.4 1310.8 L1094.2 1313.1 L1095.0 1315.3 M1098.8 1326.5 L1099.6 1328.8 L1100.4 1331.0 L1101.2 1333.3 L1101.9 1335.6 L1102.6 1337.7 M1106.5 1348.8 L1107.2 1351.1 L1108.0 1353.4 L1108.8 1355.6 L1109.6 1357.9 L1110.3 1360.0 M1114.1 1371.2 L1114.9 1373.4 L1115.6 1375.7 L1116.4 1378.0 L1117.2 1380.2 L1117.9 1382.3 M1121.7 1393.5 L1122.5 1395.8 L1123.2 1398.0 L1124.0 1400.3 L1124.2 1400.9" fill="none" stroke="#ff0000" stroke-width="2.6" stroke-linecap="butt"/>
<path d="M541.6 927.2 L543.2 925.4 L544.8 923.7 L546.4 921.9 L546.7 921.6 M556.5 910.5 L558.1 908.7 L559.7 906.9 L561.2 905.0 L562.8 903.2 L564.3 901.4 L565.9 899.6 L566.1 899.3 M575.5 888.1 L577.0 886.2 L578.6 884.4 L580.1 882.5 L581.6 880.6 L583.1 878.8 L584.6 876.9 L584.8 876.8 M593.7 865.7 L595.2 863.9 L596.7 862.0 L598.2 860.1 L599.7 858.2 L601.2 856.3 L602.7 854.5 M611.5 843.3 L613.0 841.4 L614.4 839.6 L615.9 837.7 L617.4 835.8 L618.9 833.9 L620.4 832.0 M629.0 821.0 L630.5 819.1 L632.0 817.2 L633.5 815.4 L635.0 813.5 L636.4 811.6 L637.9 809.7 M646.7 798.6 L648.2 796.7 L649.7 794.8 L651.2 792.9 L652.7 791.0 L654.2 789.2 L655.7 787.3 M664.6 776.2 L666.1 774.4 L667.6 772.5 L669.2 770.7 L670.7 768.8 L672.2 766.9 L673.7 765.1 L673.9 764.9 M683.1 753.9 L684.6 752.0 L686.2 750.2 L687.7 748.4 L689.3 746.6 L690.9 744.7 L692.4 742.9 L692.7 742.6 M702.5 731.5 L704.1 729.7 L705.7 727.9 L707.3 726.2 L708.9 724.4 L710.5 722.6 L712.1 720.9 L712.7 720.3 M723.0 709.4 L724.7 707.6 L726.3 705.9 L728.0 704.2 L729.7 702.5 L731.4 700.8 L733.1 699.1 L733.5 698.7 M743.9 688.7 L745.6 687.0 L747.4 685.4 L749.1 683.8 L750.9 682.1 L752.7 680.5 L754.3 679.1 M764.6 670.2 L766.5 668.6 L768.3 667.1 L770.2 665.6 L772.0 664.1 L773.9 662.6 L775.0 661.7 M785.4 653.9 L787.4 652.5 L789.3 651.2 L791.3 649.8 L793.3 648.4 L795.3 647.1 L795.8 646.8 M806.1 640.3 L808.2 639.1 L810.3 637.9 L812.4 636.7 L814.5 635.6 L816.6 634.4 M827.0 629.3 L829.2 628.3 L831.4 627.4 L833.6 626.5 L835.8 625.6 L837.3 625.0 M847.7 621.4 L850.0 620.7 L852.3 620.1 L854.7 619.5 L857.0 618.9 L858.2 618.7 M868.6 616.7 L871.0 616.4 L873.3 616.1 L875.7 615.9 L878.1 615.7 L878.9 615.7 M889.3 615.5 L891.7 615.6 L894.1 615.8 L896.5 616.0 L898.9 616.2 L899.7 616.3 M910.1 618.0 L912.5 618.5 L914.8 619.1 L917.1 619.7 L919.5 620.3 L920.4 620.6 M930.8 624.1 L933.1 625.0 L935.3 625.9 L937.5 626.8 L939.7 627.8 L941.4 628.5 M951.6 633.5 L953.7 634.7 L955.8 635.8 L957.9 637.0 L960.0 638.2 L962.0 639.4 M972.5 646.1 L974.5 647.4 L976.5 648.8 L978.4 650.1 L980.4 651.5 L982.3 652.9 L982.8 653.3 M993.2 661.1 L995.1 662.6 L996.9 664.1 L998.8 665.6 L1000.6 667.2 L1002.5 668.7 L1003.6 669.6 M1014.0 678.6 L1015.8 680.2 L1017.6 681.9 L1019.3 683.5 L1021.1 685.1 L1022.9 686.7 L1024.5 688.2 M1034.7 698.1 L1036.4 699.8 L1038.1 701.4 L1039.8 703.1 L1041.5 704.8 L1043.2 706.5 L1044.9 708.3 L1045.2 708.5 M1055.6 719.3 L1057.2 721.1 L1058.9 722.8 L1060.5 724.6 L1062.1 726.3 L1063.8 728.1 L1065.4 729.9 L1066.0 730.4 M1076.1 741.5 L1077.7 743.3 L1079.3 745.1 L1080.9 746.9 L1082.4 748.7 L1084.0 750.5 L1085.6 752.3 L1086.0 752.7 M1095.8 763.9 L1097.3 765.7 L1098.9 767.5 L1100.5 769.3 L1102.0 771.2 L1103.6 773.0 L1105.1 774.8 L1105.4 775.1 M1114.8 786.3 L1116.4 788.1 L1117.9 789.9 L1119.4 791.8 L1121.0 793.6 L1122.5 795.5 L1124.0 797.3 L1124.3 797.6 M1133.5 808.7 L1135.0 810.6 L1136.5 812.4 L1138.0 814.3 L1139.6 816.2 L1141.1 818.0 L1142.6 819.9 M1151.7 831.0 L1153.2 832.9 L1154.7 834.8 L1156.2 836.6 L1157.7 838.5 L1159.2 840.4 L1160.7 842.2 M1169.7 853.5 L1171.2 855.3 L1172.7 857.2 L1174.2 859.1 L1175.7 861.0 L1177.3 862.8 L1178.8 864.7 M1187.6 875.8 L1189.1 877.7 L1190.6 879.5 L1192.1 881.4 L1193.6 883.3 L1195.1 885.2 L1196.6 887.0 M1205.4 898.2 L1206.9 900.0 L1208.4 901.9 L1209.9 903.8 L1211.4 905.7 L1212.9 907.5 L1214.4 909.4 M1223.2 920.6 L1224.7 922.4 L1226.2 924.3 L1227.7 926.2 L1229.2 928.1 L1230.7 930.0 L1232.1 931.9 M1240.8 942.8 L1242.3 944.7 L1243.8 946.6 L1245.3 948.5 L1246.8 950.4 L1248.2 952.3 L1249.7 954.2 M1258.5 965.3 L1260.0 967.2 L1261.5 969.1 L1262.9 971.0 L1264.4 972.9 L1265.9 974.8 L1267.3 976.5 M1276.0 987.7 L1277.5 989.6 L1279.0 991.5 L1280.4 993.3 L1281.9 995.2 L1283.4 997.1 L1284.8 998.9 M1293.5 1010.0 L1295.0 1011.9 L1296.5 1013.8 L1297.9 1015.7 L1299.4 1017.6 L1300.9 1019.5 L1302.2 1021.2 M1311.0 1032.4 L1312.4 1034.3 L1313.9 1036.2 L1315.4 1038.1 L1316.9 1040.0 L1318.3 1041.9 L1319.7 1043.6 M1328.3 1054.7 L1329.7 1056.6 L1331.2 1058.5 L1332.7 1060.4 L1334.2 1062.3 L1335.6 1064.2 L1337.1 1066.1 M1345.7 1077.1 L1347.2 1079.0 L1348.6 1080.9 L1350.1 1082.8 L1351.6 1084.7 L1353.0 1086.6 L1354.4 1088.3 M1363.1 1099.6 L1364.6 1101.5 L1366.0 1103.4 L1367.5 1105.3 L1369.0 1107.2 L1370.4 1109.1 L1371.8 1110.8 M1380.4 1121.9 L1381.8 1123.8 L1383.3 1125.7 L1384.8 1127.5 L1386.2 1129.4 L1387.7 1131.3 L1389.1 1133.1 M1397.8 1144.3 L1399.2 1146.2 L1400.7 1148.1 L1402.2 1150.0 L1403.6 1151.9 L1405.1 1153.8 L1406.4 1155.5 M1415.0 1166.6 L1416.5 1168.5 L1418.0 1170.4 L1419.4 1172.3 L1420.9 1174.2 L1422.4 1176.1 L1423.7 1177.8 M1432.4 1189.1 L1433.9 1191.0 L1435.3 1192.9 L1436.8 1194.7 L1438.3 1196.6 L1439.8 1198.5 L1441.1 1200.3 M1449.7 1211.3 L1451.2 1213.2 L1452.6 1215.1 L1454.1 1217.0 L1455.6 1218.9 L1457.0 1220.8 L1458.4 1222.6 M1467.1 1233.8 L1468.6 1235.7 L1470.0 1237.6 L1471.5 1239.5 L1473.0 1241.4 L1474.5 1243.3 L1475.8 1245.0 M1484.4 1256.0 L1485.9 1257.9 L1487.3 1259.8 L1488.8 1261.7 L1490.3 1263.6 L1491.8 1265.5 L1493.2 1267.4 M1501.8 1278.5 L1503.3 1280.3 L1504.8 1282.2 L1506.3 1284.1 L1507.7 1286.0 L1509.2 1287.9 L1510.7 1289.8 M1519.3 1300.8 L1520.8 1302.7 L1522.3 1304.6 L1523.7 1306.5 L1525.2 1308.4 L1526.7 1310.3 L1528.2 1312.2 M1536.8 1323.2 L1538.3 1325.1 L1539.8 1327.0 L1541.2 1328.9 L1542.7 1330.8 L1544.2 1332.7 L1545.7 1334.5 M1554.3 1345.6 L1555.8 1347.4 L1557.3 1349.3 L1558.8 1351.2 L1560.3 1353.1 L1561.8 1355.0 L1563.2 1356.9 M1572.0 1368.0 L1573.5 1369.9 L1575.0 1371.8 L1575.5 1372.4" fill="none" stroke="#ff0000" stroke-width="2.6" stroke-linecap="butt"/>
<path d="M423.7 1707.2 L426.7 1702.0 L429.7 1696.8 L432.7 1691.6 L435.7 1686.5 L438.7 1681.4 L441.7 1676.4 L444.7 1671.4 L447.7 1666.5 L450.7 1661.6 L453.7 1656.8 L456.7 1651.9 L459.7 1647.1 L462.7 1642.4 L465.7 1637.6 L468.7 1632.9 L471.7 1628.3 L474.7 1623.6 L477.7 1618.9 L480.7 1614.3 L483.7 1609.7 L486.7 1605.1 L489.7 1600.5 L492.7 1595.9 L495.7 1591.4 L498.7 1586.8 L501.7 1582.2 L504.7 1577.7 L507.7 1573.1 L510.7 1568.5 L513.7 1563.9 L516.7 1559.3 L519.7 1554.7 L522.7 1550.0 L525.7 1545.4 L528.7 1540.7 L531.7 1536.0 L534.7 1531.3 L537.7 1526.5 L540.7 1521.8 L543.7 1516.9 L546.7 1512.1 L549.7 1507.2 L552.7 1502.2 L555.7 1497.3 L558.7 1492.2 L561.7 1487.2 L564.7 1482.0 L567.7 1476.9 L570.7 1471.7 L573.7 1466.4 L576.7 1461.1 L579.7 1455.7 L582.7 1450.2 L585.7 1444.7 L588.7 1439.1 L591.7 1433.4 L594.7 1427.6 L597.7 1421.8 L600.7 1415.9 L603.7 1409.9 L606.7 1403.8 L609.7 1397.6 L612.7 1391.3 L615.7 1385.0 L618.7 1378.6 L621.7 1372.1 L624.7 1365.5 L627.7 1358.9 L630.7 1352.1 L633.7 1345.3 L636.7 1338.5 L639.7 1331.5 L642.7 1324.6 L645.7 1317.5 L648.7 1310.4 L651.7 1303.2 L654.7 1295.9 L657.7 1288.6 L660.7 1281.2 L663.7 1273.8 L666.7 1266.4 L669.7 1258.8 L672.7 1251.3 L675.7 1243.6 L678.7 1236.0 L681.7 1228.3 L684.7 1220.6 L687.7 1212.9 L690.7 1205.1 L693.7 1197.4 L696.7 1189.6 L699.7 1181.8 L702.7 1174.1 L705.7 1166.3 L708.7 1158.6 L711.7 1150.9 L714.7 1143.3 L717.7 1135.7 L720.7 1128.1 L723.7 1120.7 L726.7 1113.3 L729.7 1105.9 L732.7 1098.7 L735.7 1091.5 L738.7 1084.4 L741.7 1077.4 L744.7 1070.5 L747.7 1063.7 L750.7 1057.0 L753.7 1050.4 L756.7 1043.9 L759.7 1037.5 L762.7 1031.2 L765.7 1025.0 L768.7 1018.9 L771.7 1012.9 L774.7 1007.0 L777.7 1001.3 L780.7 995.6 L783.7 990.1 L786.7 984.7 L789.7 979.4 L792.7 974.2 L795.7 969.2 L798.7 964.3 L801.7 959.4 L804.7 954.8 L807.7 950.2 L810.7 945.7 L813.7 941.4 L816.7 937.2 L819.7 933.1 L822.7 929.1 L825.7 925.3 L828.7 921.6 L831.7 918.0 L834.7 914.5 L837.7 911.1 L840.7 907.9 L843.7 904.8 L846.7 901.8 L849.7 898.9 L852.7 896.2 L855.7 893.5 L858.7 891.0 L861.7 888.6 L864.7 886.3 L867.7 884.1 L870.7 882.1 L873.7 880.2 L876.7 878.3 L879.7 876.6 L882.7 875.0 L885.7 873.5 L888.7 872.2 L891.7 870.9 L894.7 869.8 L897.7 868.7 L900.7 867.8 L903.7 867.0 L906.7 866.2 L909.7 865.6 L912.7 865.1 L915.7 864.7 L918.7 864.4 L921.7 864.2 L924.7 864.1 L927.7 864.1 L930.7 864.2 L933.7 864.4 L936.7 864.7 L939.7 865.1 L942.7 865.5 L945.7 866.1 L948.7 866.7 L951.7 867.5 L954.7 868.3 L957.7 869.2 L960.7 870.2 L963.7 871.3 L966.7 872.4 L969.7 873.6 L972.7 874.9 L975.7 876.3 L978.7 877.8 L981.7 879.3 L984.7 880.9 L987.7 882.5 L990.7 884.2 L993.7 886.0 L996.7 887.9 L999.7 889.8 L1002.7 891.8 L1005.7 893.8 L1008.7 895.9 L1011.7 898.0 L1014.7 900.2 L1017.7 902.4 L1020.7 904.7 L1023.7 907.0 L1026.7 909.4 L1029.7 911.8 L1032.7 914.3 L1035.7 916.8 L1038.7 919.4 L1041.7 921.9 L1044.7 924.5 L1047.7 927.2 L1050.7 929.9 L1053.7 932.6 L1056.7 935.3 L1059.7 938.1 L1062.7 940.8 L1065.7 943.7 L1068.7 946.5 L1071.7 949.3 L1074.7 952.2 L1077.7 955.1 L1080.7 958.0 L1083.7 960.9 L1086.7 963.8 L1089.7 966.7 L1092.7 969.6 L1095.7 972.6 L1098.7 975.5 L1101.7 978.5 L1104.7 981.4 L1107.7 984.4 L1110.7 987.3 L1113.7 990.3 L1116.7 993.2 L1119.7 996.2 L1122.7 999.1 L1125.7 1002.1 L1128.7 1005.0 L1131.7 1007.9 L1134.7 1010.9 L1137.7 1013.8 L1140.7 1016.7 L1143.7 1019.6 L1146.7 1022.5 L1149.7 1025.4 L1152.7 1028.3 L1155.7 1031.2 L1158.7 1034.0 L1161.7 1036.9 L1164.7 1039.7 L1167.7 1042.5 L1170.7 1045.3 L1173.7 1048.1 L1176.7 1050.9 L1179.7 1053.6 L1182.7 1056.4 L1185.7 1059.1 L1188.7 1061.8 L1191.7 1064.5 L1194.7 1067.2 L1197.7 1069.8 L1200.7 1072.4 L1203.7 1075.0 L1206.7 1077.6 L1209.7 1080.2 L1212.7 1082.7 L1215.7 1085.3 L1218.7 1087.8 L1221.7 1090.2 L1224.7 1092.7 L1227.7 1095.1 L1230.7 1097.5 L1233.7 1099.9 L1236.7 1102.3 L1239.7 1104.6 L1242.7 1106.9 L1245.7 1109.2 L1248.7 1111.5 L1251.7 1113.7 L1254.7 1115.9 L1257.7 1118.1 L1260.7 1120.3 L1263.7 1122.4 L1266.7 1124.6 L1269.7 1126.6 L1272.7 1128.7 L1275.7 1130.8 L1278.7 1132.8 L1281.7 1134.8 L1284.7 1136.8 L1287.7 1138.7 L1290.7 1140.6 L1293.7 1142.6 L1296.7 1144.4 L1299.7 1146.3 L1302.7 1148.1 L1305.7 1149.9 L1308.7 1151.7 L1311.7 1153.5 L1314.7 1155.3 L1317.7 1157.0 L1320.7 1158.7 L1323.7 1160.4 L1326.7 1162.1 L1329.7 1163.8 L1332.7 1165.4 L1335.7 1167.0 L1338.7 1168.7 L1341.7 1170.3 L1344.7 1171.8 L1347.7 1173.4 L1350.7 1175.0 L1353.7 1176.5 L1356.7 1178.0 L1359.7 1179.5 L1362.7 1181.0 L1365.7 1182.5 L1368.7 1184.0 L1371.7 1185.5 L1374.7 1187.0 L1377.7 1188.4 L1380.7 1189.9 L1383.7 1191.3 L1386.7 1192.7 L1389.7 1194.1 L1392.7 1195.6 L1395.7 1197.0 L1398.7 1198.4 L1401.7 1199.8 L1404.7 1201.2 L1407.7 1202.6 L1410.7 1204.0 L1413.7 1205.3 L1416.7 1206.7 L1419.7 1208.1 L1422.7 1209.5 L1425.7 1210.9 L1428.7 1212.2 L1431.7 1213.6 L1434.7 1215.0 L1437.7 1216.4 L1440.7 1217.8 L1443.7 1219.2 L1446.7 1220.6 L1449.7 1222.0 L1452.7 1223.5 L1455.7 1224.9 L1458.7 1226.3 L1461.7 1227.8 L1464.7 1229.2 L1467.7 1230.6 L1470.7 1232.1 L1473.7 1233.5 L1476.7 1234.9 L1479.7 1236.4 L1482.7 1237.8 L1485.7 1239.2 L1488.7 1240.6 L1491.7 1242.1 L1494.7 1243.5 L1497.7 1244.9 L1500.7 1246.3 L1503.7 1247.8 L1506.7 1249.2 L1509.7 1250.6 L1512.7 1252.0 L1515.7 1253.4 L1518.7 1254.8 L1521.7 1256.2 L1524.7 1257.6 L1527.7 1259.0 L1530.7 1260.4 L1533.7 1261.8 L1536.7 1263.2 L1539.7 1264.6 L1542.7 1266.0 L1545.7 1267.4 L1548.7 1268.8 L1551.7 1270.2 L1554.7 1271.6 L1557.7 1272.9 L1560.7 1274.3 L1563.7 1275.7 L1566.7 1277.1 L1569.7 1278.5 L1572.7 1279.9 L1575.7 1281.2 L1578.7 1282.6 L1581.7 1284.0 L1584.7 1285.4 L1587.7 1286.8 L1590.7 1288.1 L1593.7 1289.5 L1596.7 1290.9 L1599.7 1292.3 L1602.7 1293.7 L1605.7 1295.0 L1608.7 1296.4 L1611.7 1297.8 L1614.7 1299.2 L1617.7 1300.6 L1620.7 1301.9 L1623.7 1303.3 L1626.7 1304.7 L1629.7 1306.1 L1632.7 1307.5 L1635.7 1308.8 L1638.7 1310.2 L1641.7 1311.6 L1644.7 1313.0 L1647.7 1314.4 L1650.7 1315.8 L1653.7 1317.2 L1656.7 1318.5 L1659.7 1319.9 L1662.7 1321.3 L1665.7 1322.7 L1668.7 1324.1 L1671.7 1325.5 L1674.7 1326.9 L1677.7 1328.3 L1680.7 1329.7 L1683.7 1331.0 L1686.7 1332.4 L1689.7 1333.8 L1692.7 1335.2 L1695.7 1336.6 L1698.7 1338.0 L1701.7 1339.4 L1704.7 1340.8 L1707.7 1342.2 L1710.7 1343.6 L1713.7 1345.0 L1716.7 1346.4 L1719.7 1347.8 L1722.7 1349.2 L1725.7 1350.6 L1728.7 1352.0 L1731.7 1353.4 L1734.7 1354.8 L1737.7 1356.2 L1740.7 1357.6 L1743.7 1359.0 L1746.7 1360.4 L1749.7 1361.8 L1752.7 1363.2 L1755.7 1364.6 L1758.7 1366.0 L1761.7 1367.4 L1764.7 1368.8 L1767.7 1370.2 L1770.7 1371.6 L1773.7 1373.0 L1776.7 1374.4 L1779.7 1375.8 L1782.7 1377.2 L1785.7 1378.6 L1788.7 1380.0 L1791.7 1381.4 L1794.7 1382.8 L1797.7 1384.2 L1800.7 1385.5 L1803.7 1386.9 L1806.7 1388.3 L1809.7 1389.7 L1812.7 1391.1 L1815.7 1392.5 L1818.7 1393.9 L1821.7 1395.3 L1824.7 1396.7 L1827.7 1398.1 L1830.7 1399.5 L1833.7 1400.9 L1836.7 1402.3 L1839.7 1403.7 L1842.7 1405.1 L1845.7 1406.5 L1848.7 1407.9 L1851.7 1409.2 L1854.7 1410.6 L1857.7 1412.0 L1860.7 1413.4 L1863.7 1414.8 L1866.7 1416.2 L1869.7 1417.6 L1872.7 1418.9 L1875.7 1420.3 L1878.7 1421.7 L1881.7 1423.1 L1884.7 1424.5 L1887.7 1425.9 L1890.7 1427.2 L1893.7 1428.6 L1896.7 1430.0 L1899.7 1431.4 L1902.7 1432.7 L1905.7 1434.1 L1908.7 1435.5 L1911.7 1436.9 L1914.7 1438.2 L1917.7 1439.6 L1920.7 1441.0 L1923.7 1442.3 L1926.7 1443.7 L1929.7 1445.1 L1932.7 1446.4 L1935.7 1447.8 L1938.7 1449.1 L1941.7 1450.5 L1944.7 1451.9 L1947.7 1453.2 L1950.7 1454.6 L1953.7 1455.9 L1956.7 1457.3 L1959.7 1458.6 L1962.7 1460.0 L1965.7 1461.3 L1968.7 1462.7 L1971.7 1464.0 L1974.7 1465.4 L1977.7 1466.7 L1980.7 1468.1 L1983.7 1469.4 L1986.7 1470.7 L1989.7 1472.1 L1992.7 1473.4 L1995.7 1474.8 L1998.7 1476.1 L2001.7 1477.4 L2004.7 1478.8 L2007.7 1480.1 L2010.7 1481.5 L2013.7 1482.8 L2016.7 1484.1 L2019.7 1485.5 L2022.7 1486.8 L2025.7 1488.1 L2028.7 1489.5 L2031.7 1490.8 L2034.7 1492.1 L2037.7 1493.5 L2040.7 1494.8 L2043.7 1496.1 L2046.7 1497.5 L2049.7 1498.8 L2052.7 1500.2 L2055.7 1501.5 L2058.7 1502.8 L2061.7 1504.2 L2064.7 1505.5 L2067.7 1506.8 L2070.7 1508.2 L2073.7 1509.5 L2076.7 1510.8 L2079.7 1512.2 L2082.7 1513.5 L2085.7 1514.8 L2088.7 1516.2 L2091.7 1517.5 L2094.7 1518.8 L2097.7 1520.2 L2100.7 1521.5 L2103.7 1522.9 L2106.7 1524.2 L2109.7 1525.5 L2112.7 1526.9 L2115.7 1528.2 L2118.7 1529.6 L2121.7 1530.9 L2124.7 1532.3 L2127.7 1533.6 L2130.7 1534.9 L2133.7 1536.3 L2136.7 1537.6 L2139.7 1539.0 L2142.7 1540.3 L2145.7 1541.7 L2148.7 1543.0 L2151.7 1544.4 L2154.7 1545.7 L2157.7 1547.1 L2160.7 1548.5 L2163.7 1549.8 L2166.7 1551.2 L2169.7 1552.5 L2172.7 1553.9 L2175.7 1555.3 L2178.7 1556.6 L2181.7 1558.0 L2184.7 1559.4 L2187.7 1560.7 L2190.7 1562.1 L2193.7 1563.5 L2196.7 1564.8 L2199.7 1566.2 L2202.7 1567.6 L2205.7 1569.0" fill="none" stroke="#000" stroke-width="3.2" stroke-linecap="butt" stroke-linejoin="round"/>
<path d="M423.7 1712.3 L426.7 1707.3 L429.7 1702.3 L432.7 1697.4 L435.7 1692.5 L438.7 1687.6 L441.7 1682.7 L444.7 1677.8 L447.7 1673.0 L450.7 1668.1 L453.7 1663.3 L456.7 1658.5 L459.7 1653.8 L462.7 1649.0 L465.6 1644.2 L468.6 1639.5 L471.6 1634.8 L474.6 1630.0 L477.6 1625.3 L480.6 1620.6 L483.6 1615.9 L486.6 1611.3 L489.6 1606.6 L492.6 1601.9 L495.6 1597.2 L498.6 1592.6 L501.6 1587.9 L504.6 1583.3 L507.6 1578.6 L510.6 1573.9 L513.6 1569.3 L516.6 1564.6 L519.6 1559.9 L522.6 1555.3 L525.6 1550.6 L528.6 1545.9 L531.6 1541.2 L534.6 1536.4 L537.6 1531.7 L540.6 1526.9 L543.6 1522.1 L546.5 1517.3 L549.5 1512.5 L552.5 1507.6 L555.5 1502.7 L558.5 1497.7 L561.5 1492.7 L564.5 1487.6 L567.5 1482.5 L570.5 1477.3 L573.5 1472.0 L576.5 1466.6 L579.5 1461.2 L582.5 1455.6 L585.5 1450.0 L588.5 1444.3 L591.5 1438.5 L594.5 1432.6 L597.5 1426.6 L600.5 1420.4 L603.5 1414.2 L606.5 1408.0 L609.5 1401.6 L612.5 1395.2 L615.5 1388.7 L618.5 1382.3 L621.5 1375.8 L624.5 1369.3 L627.4 1362.8 L630.4 1356.4 L633.4 1349.9 L636.4 1343.5 L639.4 1337.2 L642.4 1330.8 L645.4 1324.4 L648.4 1318.0 L651.4 1311.5 L654.4 1305.1 L657.4 1298.6 L660.4 1292.0 L663.4 1285.4 L666.4 1278.8 L669.4 1272.1 L672.4 1265.4 L675.4 1258.7 L678.4 1251.9 L681.4 1245.2 L684.4 1238.4 L687.4 1231.6 L690.4 1224.8 L693.4 1218.0 L696.4 1211.3 L699.4 1204.5 L702.4 1197.8 L705.4 1191.1 L708.3 1184.5 L711.3 1177.9 L714.3 1171.3 L717.3 1164.8 L720.3 1158.4 L723.3 1152.0 L726.3 1145.7 L729.3 1139.5 L732.3 1133.3 L735.3 1127.3 L738.3 1121.3 L741.3 1115.4 L744.3 1109.7 L747.3 1104.0 L750.3 1098.4 L753.3 1093.0 L756.3 1087.6 L759.3 1082.4 L762.3 1077.3 L765.3 1072.3 L768.3 1067.4 L771.3 1062.6 L774.3 1057.9 L777.3 1053.3 L780.3 1048.9 L783.3 1044.6 L786.3 1040.4 L789.2 1036.3 L792.2 1032.3 L795.2 1028.5 L798.2 1024.8 L801.2 1021.2 L804.2 1017.7 L807.2 1014.3 L810.2 1011.1 L813.2 1008.0 L816.2 1005.0 L819.2 1002.1 L822.2 999.4 L825.2 996.7 L828.2 994.2 L831.2 991.8 L834.2 989.5 L837.2 987.4 L840.2 985.4 L843.2 983.4 L846.2 981.7 L849.2 980.0 L852.2 978.4 L855.2 977.0 L858.2 975.7 L861.2 974.5 L864.2 973.4 L867.2 972.4 L870.1 971.5 L873.1 970.8 L876.1 970.1 L879.1 969.6 L882.1 969.1 L885.1 968.8 L888.1 968.6 L891.1 968.5 L894.1 968.5 L897.1 968.6 L900.1 968.7 L903.1 969.0 L906.1 969.4 L909.1 969.9 L912.1 970.4 L915.1 971.1 L918.1 971.8 L921.1 972.7 L924.1 973.6 L927.1 974.6 L930.1 975.7 L933.1 976.8 L936.1 978.1 L939.1 979.4 L942.1 980.8 L945.1 982.3 L948.1 983.9 L951.0 985.5 L954.0 987.2 L957.0 989.0 L960.0 990.8 L963.0 992.7 L966.0 994.7 L969.0 996.7 L972.0 998.8 L975.0 1000.9 L978.0 1003.1 L981.0 1005.3 L984.0 1007.7 L987.0 1010.0 L990.0 1012.4 L993.0 1014.9 L996.0 1017.4 L999.0 1019.9 L1002.0 1022.5 L1005.0 1025.1 L1008.0 1027.7 L1011.0 1030.4 L1014.0 1033.2 L1017.0 1035.9 L1020.0 1038.7 L1023.0 1041.5 L1026.0 1044.4 L1029.0 1047.2 L1031.9 1050.1 L1034.9 1053.1 L1037.9 1056.0 L1040.9 1059.0 L1043.9 1061.9 L1046.9 1064.9 L1049.9 1067.9 L1052.9 1071.0 L1055.9 1074.0 L1058.9 1077.1 L1061.9 1080.1 L1064.9 1083.2 L1067.9 1086.3 L1070.9 1089.4 L1073.9 1092.5 L1076.9 1095.6 L1079.9 1098.7 L1082.9 1101.8 L1085.9 1104.9 L1088.9 1108.0 L1091.9 1111.2 L1094.9 1114.3 L1097.9 1117.4 L1100.9 1120.5 L1103.9 1123.6 L1106.9 1126.7 L1109.9 1129.8 L1112.8 1132.9 L1115.8 1136.0 L1118.8 1139.1 L1121.8 1142.2 L1124.8 1145.2 L1127.8 1148.3 L1130.8 1151.3 L1133.8 1154.3 L1136.8 1157.4 L1139.8 1160.4 L1142.8 1163.3 L1145.8 1166.3 L1148.8 1169.3 L1151.8 1172.2 L1154.8 1175.1 L1157.8 1178.0 L1160.8 1180.9 L1163.8 1183.7 L1166.8 1186.6 L1169.8 1189.4 L1172.8 1192.2 L1175.8 1195.0 L1178.8 1197.8 L1181.8 1200.5 L1184.8 1203.2 L1187.8 1205.9 L1190.8 1208.6 L1193.7 1211.2 L1196.7 1213.9 L1199.7 1216.5 L1202.7 1219.1 L1205.7 1221.6 L1208.7 1224.2 L1211.7 1226.7 L1214.7 1229.2 L1217.7 1231.6 L1220.7 1234.1 L1223.7 1236.5 L1226.7 1238.9 L1229.7 1241.3 L1232.7 1243.6 L1235.7 1246.0 L1238.7 1248.3 L1241.7 1250.6 L1244.7 1252.8 L1247.7 1255.1 L1250.7 1257.3 L1253.7 1259.5 L1256.7 1261.7 L1259.7 1263.9 L1262.7 1266.0 L1265.7 1268.1 L1268.7 1270.2 L1271.7 1272.3 L1274.6 1274.4 L1277.6 1276.4 L1280.6 1278.5 L1283.6 1280.5 L1286.6 1282.5 L1289.6 1284.4 L1292.6 1286.4 L1295.6 1288.3 L1298.6 1290.3 L1301.6 1292.2 L1304.6 1294.1 L1307.6 1296.0 L1310.6 1297.8 L1313.6 1299.7 L1316.6 1301.5 L1319.6 1303.3 L1322.6 1305.1 L1325.6 1306.9 L1328.6 1308.7 L1331.6 1310.5 L1334.6 1312.3 L1337.6 1314.0 L1340.6 1315.8 L1343.6 1317.5 L1346.6 1319.2 L1349.6 1320.9 L1352.6 1322.6 L1355.6 1324.3 L1358.5 1326.0 L1361.5 1327.7 L1364.5 1329.5 L1367.5 1331.2 L1370.5 1332.9 L1373.5 1334.7 L1376.5 1336.4 L1379.5 1338.1 L1382.5 1339.9 L1385.5 1341.6 L1388.5 1343.3 L1391.5 1345.1 L1394.5 1346.8 L1397.5 1348.5 L1400.5 1350.2 L1403.5 1351.9 L1406.5 1353.6 L1409.5 1355.3 L1412.5 1356.9 L1415.5 1358.6 L1418.5 1360.3 L1421.5 1361.9 L1424.5 1363.6 L1427.5 1365.2 L1430.5 1366.8 L1433.5 1368.4 L1436.5 1370.0 L1439.4 1371.6 L1442.4 1373.2 L1445.4 1374.8 L1448.4 1376.4 L1451.4 1377.9 L1454.4 1379.5 L1457.4 1381.0 L1460.4 1382.6 L1463.4 1384.1 L1466.4 1385.6 L1469.4 1387.1 L1472.4 1388.7 L1475.4 1390.2 L1478.4 1391.7 L1481.4 1393.1 L1484.4 1394.6 L1487.4 1396.1 L1490.4 1397.6 L1493.4 1399.1 L1496.4 1400.5 L1499.4 1402.0 L1502.4 1403.5 L1505.4 1404.9 L1508.4 1406.4 L1511.4 1407.8 L1514.4 1409.3 L1517.4 1410.7 L1520.3 1412.2 L1523.3 1413.6 L1526.3 1415.1 L1529.3 1416.5 L1532.3 1417.9 L1535.3 1419.4 L1538.3 1420.8 L1541.3 1422.2 L1544.3 1423.7 L1547.3 1425.1 L1550.3 1426.5 L1553.3 1428.0 L1556.3 1429.4 L1559.3 1430.9 L1562.3 1432.3 L1565.3 1433.7 L1568.3 1435.2 L1571.3 1436.6 L1574.3 1438.0 L1577.3 1439.5 L1580.3 1440.9 L1583.3 1442.3 L1586.3 1443.8 L1589.3 1445.2 L1592.3 1446.6 L1595.3 1448.1 L1598.3 1449.5 L1601.2 1451.0 L1604.2 1452.4 L1607.2 1453.8 L1610.2 1455.3 L1613.2 1456.7 L1616.2 1458.2 L1619.2 1459.6 L1622.2 1461.1 L1625.2 1462.5 L1628.2 1464.0 L1631.2 1465.4 L1634.2 1466.8 L1637.2 1468.3 L1640.2 1469.7 L1643.2 1471.2 L1646.2 1472.6 L1649.2 1474.1 L1652.2 1475.5 L1655.2 1477.0 L1658.2 1478.4 L1661.2 1479.9 L1664.2 1481.3 L1667.2 1482.8 L1670.2 1484.2 L1673.2 1485.7 L1676.2 1487.2 L1679.2 1488.6 L1682.1 1490.1 L1685.1 1491.5 L1688.1 1493.0 L1691.1 1494.4 L1694.1 1495.9 L1697.1 1497.3 L1700.1 1498.8 L1703.1 1500.3 L1706.1 1501.7 L1709.1 1503.2 L1712.1 1504.6 L1715.1 1506.1 L1718.1 1507.5 L1721.1 1509.0 L1724.1 1510.5 L1727.1 1511.9 L1730.1 1513.4 L1733.1 1514.8 L1736.1 1516.3 L1739.1 1517.8 L1742.1 1519.2 L1745.1 1520.7 L1748.1 1522.1 L1751.1 1523.6 L1754.1 1525.1 L1757.1 1526.5 L1760.1 1528.0 L1763.0 1529.5 L1766.0 1530.9 L1769.0 1532.4 L1772.0 1533.8 L1775.0 1535.3 L1778.0 1536.8 L1781.0 1538.2 L1784.0 1539.7 L1787.0 1541.2 L1790.0 1542.6 L1793.0 1544.1 L1796.0 1545.5 L1799.0 1547.0 L1802.0 1548.5 L1805.0 1549.9 L1808.0 1551.4 L1811.0 1552.9 L1814.0 1554.3 L1817.0 1555.8 L1820.0 1557.2 L1823.0 1558.7 L1826.0 1560.2 L1829.0 1561.6 L1832.0 1563.1 L1835.0 1564.5 L1838.0 1566.0 L1841.0 1567.5 L1843.9 1568.9 L1846.9 1570.4 L1849.9 1571.8 L1852.9 1573.3 L1855.9 1574.8 L1858.9 1576.2 L1861.9 1577.7 L1864.9 1579.1 L1867.9 1580.6 L1870.9 1582.0 L1873.9 1583.5 L1876.9 1585.0 L1879.9 1586.4 L1882.9 1587.9 L1885.9 1589.3 L1888.9 1590.8 L1891.9 1592.2 L1894.9 1593.7 L1897.9 1595.1 L1900.9 1596.6 L1903.9 1598.0 L1906.9 1599.5 L1909.9 1600.9 L1912.9 1602.4 L1915.9 1603.8 L1918.9 1605.3 L1921.9 1606.7 L1924.8 1608.2 L1927.8 1609.6 L1930.8 1611.1 L1933.8 1612.5 L1936.8 1614.0 L1939.8 1615.4 L1942.8 1616.9 L1945.8 1618.3 L1948.8 1619.7 L1951.8 1621.2 L1954.8 1622.6 L1957.8 1624.1 L1960.8 1625.5 L1963.8 1627.0 L1966.8 1628.4 L1969.8 1629.8 L1972.8 1631.3 L1975.8 1632.7 L1978.8 1634.1 L1981.8 1635.6 L1984.8 1637.0 L1987.8 1638.4 L1990.8 1639.9 L1993.8 1641.3 L1996.8 1642.7 L1999.8 1644.2 L2002.8 1645.6 L2005.7 1647.0 L2008.7 1648.4 L2011.7 1649.9 L2014.7 1651.3 L2017.7 1652.7 L2020.7 1654.1 L2023.7 1655.6 L2026.7 1657.0 L2029.7 1658.4 L2032.7 1659.8 L2035.7 1661.2 L2038.7 1662.6 L2041.7 1664.1 L2044.7 1665.5 L2047.7 1666.9 L2050.7 1668.3 L2053.7 1669.7 L2056.7 1671.1 L2059.7 1672.5 L2062.7 1673.9 L2065.7 1675.3 L2068.7 1676.7 L2071.7 1678.1 L2074.7 1679.5 L2077.7 1680.9 L2080.7 1682.3 L2083.7 1683.7 L2086.6 1685.1 L2089.6 1686.5 L2092.6 1687.9 L2095.6 1689.3 L2098.6 1690.7 L2101.6 1692.1 L2104.6 1693.5 L2107.6 1694.9 L2110.6 1696.3 L2113.6 1697.6 L2116.6 1699.0 L2119.6 1700.4 L2122.6 1701.8 L2125.6 1703.2 L2128.6 1704.5 L2131.6 1705.9 L2134.6 1707.3 L2137.6 1708.7 L2140.6 1710.0 L2143.6 1711.4 L2146.6 1712.8 L2149.6 1714.1 L2152.6 1715.5 L2155.6 1716.9 L2158.6 1718.2 L2161.6 1719.6 L2164.6 1721.0 L2167.5 1722.3 L2170.5 1723.7 L2173.5 1725.0 L2176.5 1726.4 L2179.5 1727.7 L2182.5 1729.1 L2185.5 1730.4 L2188.5 1731.8 L2191.5 1733.1 L2194.5 1734.4 L2197.5 1735.8 L2200.5 1737.1 L2203.5 1738.5 L2206.5 1739.8" fill="none" stroke="#000" stroke-width="3.2" stroke-linecap="butt" stroke-linejoin="round"/>
<path d="M539.5 827.7 L542.5 822.2 L545.5 816.6 L548.5 811.0 L551.5 805.2 L554.5 799.4 L557.5 793.5 L560.5 787.5 L563.5 781.4 L566.4 775.3 L569.4 769.1 L572.4 762.8 L575.4 756.4 L578.4 750.0 L581.4 743.5 L584.4 736.9 L587.4 730.3 L590.4 723.6 L593.4 716.9 L596.4 710.1 L599.4 703.2 L602.4 696.3 L605.4 689.4 L608.4 682.4 L611.4 675.4 L614.4 668.3 L617.3 661.2 L620.3 654.0 L623.3 646.9 L626.3 639.7 L629.3 632.4 L632.3 625.2 L635.3 617.9 L638.3 610.6 L641.3 603.4 L644.3 596.1 L647.3 588.8 L650.3 581.5 L653.3 574.2 L656.3 567.0 L659.3 559.9 L662.3 552.8 L665.3 545.8 L668.3 538.8 L671.2 532.0 L674.2 525.2 L677.2 518.6 L680.2 512.1 L683.2 505.8 L686.2 499.6 L689.2 493.6 L692.2 487.8 L695.2 482.2 L698.2 476.7 L701.2 471.5 L704.2 466.6 L707.2 461.8 L710.2 457.3 L713.2 453.1 L716.2 449.2 L719.2 445.5 L722.1 442.1 L725.1 439.0 L728.1 436.2 L731.1 433.6 L734.1 431.3 L737.1 429.2 L740.1 427.5 L743.1 426.0 L746.1 424.8 L749.1 423.8 L752.1 423.1 L755.1 422.7 L758.1 422.5 L761.1 422.6 L764.1 423.0 L767.1 423.6 L770.1 424.4 L773.0 425.5 L776.0 426.8 L779.0 428.4 L782.0 430.2 L785.0 432.2 L788.0 434.4 L791.0 436.8 L794.0 439.4 L797.0 442.2 L800.0 445.2 L803.0 448.2 L806.0 451.5 L809.0 454.8 L812.0 458.3 L815.0 461.8 L818.0 465.4 L821.0 469.1 L824.0 472.8 L826.9 476.6 L829.9 480.4 L832.9 484.2 L835.9 488.0 L838.9 491.8 L841.9 495.6 L844.9 499.4 L847.9 503.2 L850.9 506.9 L853.9 510.5 L856.9 514.1 L859.9 517.7 L862.9 521.2 L865.9 524.6 L868.9 528.0 L871.9 531.3 L874.9 534.6 L877.8 537.8 L880.8 540.9 L883.8 543.9 L886.8 547.0 L889.8 549.9 L892.8 552.8 L895.8 555.7 L898.8 558.6 L901.8 561.4 L904.8 564.2 L907.8 566.9 L910.8 569.7 L913.8 572.4 L916.8 575.1 L919.8 577.8 L922.8 580.5 L925.8 583.1 L928.7 585.8 L931.7 588.5 L934.7 591.1 L937.7 593.8 L940.7 596.4 L943.7 599.1 L946.7 601.8 L949.7 604.5 L952.7 607.2 L955.7 609.9 L958.7 612.6 L961.7 615.3 L964.7 618.1 L967.7 620.8 L970.7 623.6 L973.7 626.4 L976.7 629.2 L979.7 632.1 L982.6 634.9 L985.6 637.8 L988.6 640.7 L991.6 643.6 L994.6 646.6 L997.6 649.6 L1000.6 652.6 L1003.6 655.6 L1006.6 658.6 L1009.6 661.7 L1012.6 664.8 L1015.6 667.9 L1018.6 671.1 L1021.6 674.2 L1024.6 677.4 L1027.6 680.6 L1030.6 683.8 L1033.5 687.1 L1036.5 690.4 L1039.5 693.7 L1042.5 697.0 L1045.5 700.3 L1048.5 703.7 L1051.5 707.1 L1054.5 710.5 L1057.5 713.9 L1060.5 717.3 L1063.5 720.8 L1066.5 724.2 L1069.5 727.7 L1072.5 731.2 L1075.5 734.7 L1078.5 738.3 L1081.5 741.8 L1084.4 745.4 L1087.4 749.0 L1090.4 752.6 L1093.4 756.2 L1096.4 759.8 L1099.4 763.4 L1102.4 767.1 L1105.4 770.7 L1108.4 774.4 L1111.4 778.0 L1114.4 781.7 L1117.4 785.4 L1120.4 789.1 L1123.4 792.9 L1126.4 796.6 L1129.4 800.3 L1132.4 804.1 L1135.3 807.8 L1138.3 811.6 L1141.3 815.4 L1144.3 819.2 L1147.3 823.0 L1150.3 826.8 L1153.3 830.6 L1156.3 834.4 L1159.3 838.2 L1162.3 842.0 L1165.3 845.9 L1168.3 849.7 L1171.3 853.5 L1174.3 857.4 L1177.3 861.2 L1180.3 865.0 L1183.3 868.8 L1186.3 872.7 L1189.2 876.5 L1192.2 880.3 L1195.2 884.2 L1198.2 888.0 L1201.2 891.8 L1204.2 895.6 L1207.2 899.5 L1210.2 903.3 L1213.2 907.1 L1216.2 911.0 L1219.2 914.8 L1222.2 918.6 L1225.2 922.5 L1228.2 926.3 L1231.2 930.1 L1234.2 934.0 L1237.2 937.8 L1240.1 941.6 L1243.1 945.4 L1246.1 949.3 L1249.1 953.1 L1252.1 956.9 L1255.1 960.8 L1258.1 964.6 L1261.1 968.4 L1264.1 972.3 L1267.1 976.1 L1270.1 980.0 L1273.1 983.8 L1276.1 987.6 L1279.1 991.5 L1282.1 995.3 L1285.1 999.1 L1288.1 1003.0 L1291.0 1006.8 L1294.0 1010.7 L1297.0 1014.5 L1300.0 1018.4 L1303.0 1022.2 L1306.0 1026.1 L1309.0 1029.9 L1312.0 1033.8 L1315.0 1037.6 L1318.0 1041.5 L1321.0 1045.3 L1324.0 1049.2 L1327.0 1053.0 L1330.0 1056.9 L1333.0 1060.7 L1336.0 1064.6 L1339.0 1068.4 L1342.0 1072.3 L1344.9 1076.2 L1347.9 1080.0 L1350.9 1083.9 L1353.9 1087.7 L1356.9 1091.6 L1359.9 1095.5 L1362.9 1099.3 L1365.9 1103.2 L1368.9 1107.1 L1371.9 1110.9 L1374.9 1114.8 L1377.9 1118.6 L1380.9 1122.5 L1383.9 1126.4 L1386.9 1130.2 L1389.9 1134.1 L1392.9 1138.0 L1395.8 1141.8 L1398.8 1145.7 L1401.8 1149.6 L1404.8 1153.4 L1407.8 1157.3 L1410.8 1161.2 L1413.8 1165.0 L1416.8 1168.9 L1419.8 1172.8 L1422.8 1176.6 L1425.8 1180.5 L1428.8 1184.4 L1431.8 1188.2 L1434.8 1192.1 L1437.8 1196.0 L1440.8 1199.8 L1443.8 1203.7 L1446.7 1207.6 L1449.7 1211.4 L1452.7 1215.3 L1455.7 1219.1 L1458.7 1223.0 L1461.7 1226.9 L1464.7 1230.7 L1467.7 1234.6 L1470.7 1238.4 L1473.7 1242.3 L1476.7 1246.1 L1479.7 1250.0 L1482.7 1253.8 L1485.7 1257.7 L1488.7 1261.5 L1491.7 1265.4 L1494.7 1269.2 L1497.7 1273.1 L1500.6 1276.9 L1503.6 1280.8 L1506.6 1284.6 L1509.6 1288.4 L1512.6 1292.3 L1515.6 1296.1 L1518.6 1300.0 L1521.6 1303.8 L1524.6 1307.6 L1527.6 1311.4 L1530.6 1315.3 L1533.6 1319.1 L1536.6 1322.9 L1539.6 1326.7 L1542.6 1330.6 L1545.6 1334.4 L1548.6 1338.2 L1551.5 1342.0 L1554.5 1345.8 L1557.5 1349.6 L1560.5 1353.4 L1563.5 1357.2 L1566.5 1361.0 L1569.5 1364.8 L1572.5 1368.6 L1575.5 1372.4" fill="none" stroke="#ff0000" stroke-width="3.2" stroke-linecap="butt" stroke-linejoin="round"/>
<ellipse cx="445.2" cy="1667.5" rx="14.8" ry="16.0" fill="none" stroke="#222" stroke-width="2.2"/>
<ellipse cx="468.7" cy="1627.0" rx="14.8" ry="16.0" fill="none" stroke="#222" stroke-width="2.2"/>
<ellipse cx="482.2" cy="1621.0" rx="14.8" ry="16.0" fill="none" stroke="#222" stroke-width="2.2"/>
<ellipse cx="492.3" cy="1608.4" rx="14.8" ry="16.0" fill="none" stroke="#222" stroke-width="2.2"/>
<ellipse cx="507.4" cy="1578.2" rx="14.8" ry="16.0" fill="none" stroke="#222" stroke-width="2.2"/>
<ellipse cx="519.2" cy="1561.3" rx="14.8" ry="16.0" fill="none" stroke="#222" stroke-width="2.2"/>
<ellipse cx="534.3" cy="1537.0" rx="14.8" ry="16.0" fill="none" stroke="#222" stroke-width="2.2"/>
<ellipse cx="551.0" cy="1512.6" rx="14.8" ry="16.0" fill="none" stroke="#222" stroke-width="2.2"/>
<ellipse cx="585.5" cy="1471.5" rx="14.8" ry="16.0" fill="none" stroke="#222" stroke-width="2.2"/>
<ellipse cx="620.5" cy="1436.5" rx="14.8" ry="16.0" fill="none" stroke="#222" stroke-width="2.2"/>
<ellipse cx="644.1" cy="1354.7" rx="14.8" ry="16.0" fill="none" stroke="#222" stroke-width="2.2"/>
<ellipse cx="661.6" cy="1304.5" rx="14.8" ry="16.0" fill="none" stroke="#222" stroke-width="2.2"/>
<ellipse cx="687.8" cy="1204.0" rx="14.8" ry="16.0" fill="none" stroke="#222" stroke-width="2.2"/>
<ellipse cx="716.6" cy="1142.0" rx="14.8" ry="16.0" fill="none" stroke="#222" stroke-width="2.2"/>
<ellipse cx="746.8" cy="1086.5" rx="14.8" ry="16.0" fill="none" stroke="#222" stroke-width="2.2"/>
<ellipse cx="779.6" cy="1036.1" rx="14.8" ry="16.0" fill="none" stroke="#222" stroke-width="2.2"/>
<ellipse cx="814.0" cy="1006.8" rx="14.8" ry="16.0" fill="none" stroke="#222" stroke-width="2.2"/>
<ellipse cx="851.3" cy="986.1" rx="14.8" ry="16.0" fill="none" stroke="#222" stroke-width="2.2"/>
<ellipse cx="890.9" cy="975.8" rx="14.8" ry="16.0" fill="none" stroke="#222" stroke-width="2.2"/>
<ellipse cx="935.7" cy="980.8" rx="14.8" ry="16.0" fill="none" stroke="#222" stroke-width="2.2"/>
<ellipse cx="986.0" cy="999.6" rx="14.8" ry="16.0" fill="none" stroke="#222" stroke-width="2.2"/>
<ellipse cx="1040.1" cy="1049.4" rx="14.8" ry="16.0" fill="none" stroke="#222" stroke-width="2.2"/>
<ellipse cx="1098.0" cy="1112.6" rx="14.8" ry="16.0" fill="none" stroke="#222" stroke-width="2.2"/>
<ellipse cx="1168.0" cy="1178.0" rx="14.8" ry="16.0" fill="none" stroke="#222" stroke-width="2.2"/>
<ellipse cx="1242.7" cy="1221.5" rx="14.8" ry="16.0" fill="none" stroke="#222" stroke-width="2.2"/>
<ellipse cx="1327.3" cy="1285.2" rx="14.8" ry="16.0" fill="none" stroke="#222" stroke-width="2.2"/>
<ellipse cx="1422.8" cy="1346.0" rx="14.8" ry="16.0" fill="none" stroke="#222" stroke-width="2.2"/>
<ellipse cx="1532.8" cy="1403.3" rx="14.8" ry="16.0" fill="none" stroke="#222" stroke-width="2.2"/>
<ellipse cx="1659.9" cy="1477.8" rx="14.8" ry="16.0" fill="none" stroke="#222" stroke-width="2.2"/>
<ellipse cx="1815.7" cy="1557.8" rx="14.8" ry="16.0" fill="none" stroke="#222" stroke-width="2.2"/>
<ellipse cx="1993.0" cy="1631.5" rx="14.8" ry="16.0" fill="none" stroke="#222" stroke-width="2.2"/>
<ellipse cx="2205.7" cy="1704.5" rx="14.8" ry="16.0" fill="none" stroke="#222" stroke-width="2.2"/>
<ellipse cx="423.5" cy="1685.0" rx="15.9" ry="17.2" fill="#000"/>
<ellipse cx="456.0" cy="1632.8" rx="15.9" ry="17.2" fill="#000"/>
<ellipse cx="491.5" cy="1573.2" rx="15.9" ry="17.2" fill="#000"/>
<ellipse cx="534.1" cy="1545.5" rx="15.9" ry="17.2" fill="#000"/>
<ellipse cx="565.2" cy="1472.7" rx="15.9" ry="17.2" fill="#000"/>
<ellipse cx="591.2" cy="1427.8" rx="15.9" ry="17.2" fill="#000"/>
<ellipse cx="630.6" cy="1384.4" rx="15.9" ry="17.2" fill="#000"/>
<ellipse cx="661.8" cy="1327.6" rx="15.9" ry="17.2" fill="#000"/>
<ellipse cx="688.0" cy="1237.0" rx="15.9" ry="17.2" fill="#000"/>
<ellipse cx="716.5" cy="1135.8" rx="15.9" ry="17.2" fill="#000"/>
<ellipse cx="746.9" cy="1025.9" rx="15.9" ry="17.2" fill="#000"/>
<ellipse cx="779.7" cy="940.7" rx="15.9" ry="17.2" fill="#000"/>
<ellipse cx="814.0" cy="920.2" rx="15.9" ry="17.2" fill="#000"/>
<ellipse cx="851.2" cy="904.4" rx="15.9" ry="17.2" fill="#000"/>
<ellipse cx="890.8" cy="889.9" rx="15.9" ry="17.2" fill="#000"/>
<ellipse cx="935.6" cy="886.6" rx="15.9" ry="17.2" fill="#000"/>
<ellipse cx="986.0" cy="882.5" rx="15.9" ry="17.2" fill="#000"/>
<ellipse cx="1040.1" cy="921.9" rx="15.9" ry="17.2" fill="#000"/>
<ellipse cx="1099.5" cy="994.8" rx="15.9" ry="17.2" fill="#000"/>
<ellipse cx="1168.0" cy="1070.9" rx="15.9" ry="17.2" fill="#000"/>
<ellipse cx="1242.7" cy="1110.5" rx="15.9" ry="17.2" fill="#000"/>
<ellipse cx="1327.3" cy="1150.5" rx="15.9" ry="17.2" fill="#000"/>
<ellipse cx="1422.8" cy="1214.2" rx="15.9" ry="17.2" fill="#000"/>
<ellipse cx="1659.9" cy="1347.5" rx="15.9" ry="17.2" fill="#000"/>
<ellipse cx="1815.7" cy="1417.3" rx="15.9" ry="17.2" fill="#000"/>
<ellipse cx="1993.0" cy="1502.5" rx="15.9" ry="17.2" fill="#000"/>
<ellipse cx="2205.7" cy="1575.4" rx="15.9" ry="17.2" fill="#000"/>
<ellipse cx="423.0" cy="918.7" rx="18.4" ry="19.8" fill="#ff0000"/>
<ellipse cx="444.1" cy="902.7" rx="18.4" ry="19.8" fill="#ff0000"/>
<ellipse cx="466.6" cy="863.3" rx="18.4" ry="19.8" fill="#ff0000"/>
<ellipse cx="491.6" cy="846.7" rx="18.4" ry="19.8" fill="#ff0000"/>
<ellipse cx="518.5" cy="835.4" rx="18.4" ry="19.8" fill="#ff0000"/>
<ellipse cx="549.7" cy="809.8" rx="18.4" ry="19.8" fill="#ff0000"/>
<ellipse cx="583.6" cy="748.2" rx="18.4" ry="19.8" fill="#ff0000"/>
<ellipse cx="620.2" cy="657.4" rx="18.4" ry="19.8" fill="#ff0000"/>
<ellipse cx="641.3" cy="604.7" rx="18.4" ry="19.8" fill="#ff0000"/>
<ellipse cx="661.9" cy="556.7" rx="18.4" ry="19.8" fill="#ff0000"/>
<ellipse cx="688.3" cy="490.0" rx="18.4" ry="19.8" fill="#ff0000"/>
<ellipse cx="716.3" cy="446.0" rx="18.4" ry="19.8" fill="#ff0000"/>
<ellipse cx="780.0" cy="445.2" rx="18.4" ry="19.8" fill="#ff0000"/>
<ellipse cx="851.0" cy="519.0" rx="18.4" ry="19.8" fill="#ff0000"/>
<ellipse cx="935.6" cy="587.8" rx="18.4" ry="19.8" fill="#ff0000"/>
<ellipse cx="1040.5" cy="671.1" rx="18.4" ry="19.8" fill="#ff0000"/>
<ellipse cx="1167.9" cy="849.8" rx="18.4" ry="19.8" fill="#ff0000"/>
<ellipse cx="1327.3" cy="1101.3" rx="18.4" ry="19.8" fill="#ff0000"/>
<ellipse cx="1532.8" cy="1287.4" rx="18.4" ry="19.8" fill="#ff0000"/>
<ellipse cx="1815.7" cy="1474.4" rx="18.4" ry="19.8" fill="#ff0000"/>
<rect x="310.0" y="252.9" width="2075.7" height="1552.6" fill="none" stroke="#000" stroke-width="5.8"/>
<path d="M355.1 1805.5 L355.1 1771.0 M806.4 1805.5 L806.4 1771.0 M1257.6 1805.5 L1257.6 1771.0 M1708.8 1805.5 L1708.8 1771.0 M2160.1 1805.5 L2160.1 1771.0 M2160.1 252.9 L2160.1 287.4 M1032.0 252.9 L1032.0 287.4 M656.0 252.9 L656.0 287.4 M467.9 252.9 L467.9 287.4 M355.1 252.9 L355.1 287.4 M310.0 1613.0 L343.2 1613.0 M310.0 1245.3 L343.2 1245.3 M310.0 877.6 L343.2 877.6 M310.0 509.9 L343.2 509.9" stroke="#000" stroke-width="5.5" fill="none"/>
<path d="M580.7 1805.5 L580.7 1787.0 M1032.0 1805.5 L1032.0 1787.0 M1483.2 1805.5 L1483.2 1787.0 M1934.5 1805.5 L1934.5 1787.0 M1955.0 252.9 L1955.0 271.4 M1784.0 252.9 L1784.0 271.4 M1639.4 252.9 L1639.4 271.4 M1515.5 252.9 L1515.5 271.4 M1408.0 252.9 L1408.0 271.4 M1314.0 252.9 L1314.0 271.4 M1231.1 252.9 L1231.1 271.4 M1157.3 252.9 L1157.3 271.4 M1091.4 252.9 L1091.4 271.4 M978.3 252.9 L978.3 271.4 M929.4 252.9 L929.4 271.4 M884.8 252.9 L884.8 271.4 M844.0 252.9 L844.0 271.4 M806.4 252.9 L806.4 271.4 M771.7 252.9 L771.7 271.4 M739.5 252.9 L739.5 271.4 M709.7 252.9 L709.7 271.4 M681.9 252.9 L681.9 271.4 M631.7 252.9 L631.7 271.4 M608.9 252.9 L608.9 271.4 M587.6 252.9 L587.6 271.4 M567.5 252.9 L567.5 271.4 M548.5 252.9 L548.5 271.4 M530.6 252.9 L530.6 271.4 M513.7 252.9 L513.7 271.4 M497.6 252.9 L497.6 271.4 M482.4 252.9 L482.4 271.4 M454.2 252.9 L454.2 271.4 M441.1 252.9 L441.1 271.4 M428.6 252.9 L428.6 271.4 M416.7 252.9 L416.7 271.4 M405.3 252.9 L405.3 271.4 M394.4 252.9 L394.4 271.4 M383.9 252.9 L383.9 271.4 M373.9 252.9 L373.9 271.4 M364.3 252.9 L364.3 271.4 M346.3 252.9 L346.3 271.4 M337.8 252.9 L337.8 271.4 M329.6 252.9 L329.6 271.4 M321.7 252.9 L321.7 271.4 M314.1 252.9 L314.1 271.4 M310.0 1759.3 L327.2 1759.3 M310.0 1723.7 L327.2 1723.7 M310.0 1694.6 L327.2 1694.6 M310.0 1670.0 L327.2 1670.0 M310.0 1648.6 L327.2 1648.6 M310.0 1629.8 L327.2 1629.8 M310.0 1502.3 L327.2 1502.3 M310.0 1437.6 L327.2 1437.6 M310.0 1391.6 L327.2 1391.6 M310.0 1356.0 L327.2 1356.0 M310.0 1326.9 L327.2 1326.9 M310.0 1302.3 L327.2 1302.3 M310.0 1280.9 L327.2 1280.9 M310.0 1262.1 L327.2 1262.1 M310.0 1134.6 L327.2 1134.6 M310.0 1069.9 L327.2 1069.9 M310.0 1023.9 L327.2 1023.9 M310.0 988.3 L327.2 988.3 M310.0 959.2 L327.2 959.2 M310.0 934.6 L327.2 934.6 M310.0 913.2 L327.2 913.2 M310.0 894.4 L327.2 894.4 M310.0 766.9 L327.2 766.9 M310.0 702.2 L327.2 702.2 M310.0 656.2 L327.2 656.2 M310.0 620.6 L327.2 620.6 M310.0 591.5 L327.2 591.5 M310.0 566.9 L327.2 566.9 M310.0 545.5 L327.2 545.5 M310.0 526.7 L327.2 526.7 M310.0 399.2 L327.2 399.2 M310.0 334.5 L327.2 334.5 M310.0 288.5 L327.2 288.5" stroke="#000" stroke-width="4.8" fill="none"/>
<text transform="translate(355.1 1909.5) scale(1 1.0800)" text-anchor="middle" xml:space="preserve"><tspan font-size="83.0">2</tspan></text>
<text transform="translate(806.4 1909.5) scale(1 1.0800)" text-anchor="middle" xml:space="preserve"><tspan font-size="83.0">4</tspan></text>
<text transform="translate(1257.6 1909.5) scale(1 1.0800)" text-anchor="middle" xml:space="preserve"><tspan font-size="83.0">6</tspan></text>
<text transform="translate(1708.8 1909.5) scale(1 1.0800)" text-anchor="middle" xml:space="preserve"><tspan font-size="83.0">8</tspan></text>
<text transform="translate(2160.1 1909.5) scale(1 1.0800)" text-anchor="middle" xml:space="preserve"><tspan font-size="83.0">10</tspan></text>
<text transform="translate(355.1 220.3) scale(1 1.1200)" text-anchor="middle" xml:space="preserve"><tspan font-size="60.6">500</tspan></text>
<text transform="translate(467.9 220.3) scale(1 1.1200)" text-anchor="middle" xml:space="preserve"><tspan font-size="60.6">400</tspan></text>
<text transform="translate(656.0 220.3) scale(1 1.1200)" text-anchor="middle" xml:space="preserve"><tspan font-size="60.6">300</tspan></text>
<text transform="translate(1032.0 220.3) scale(1 1.1200)" text-anchor="middle" xml:space="preserve"><tspan font-size="60.6">200</tspan></text>
<text transform="translate(2160.1 220.3) scale(1 1.1200)" text-anchor="middle" xml:space="preserve"><tspan font-size="60.6">100</tspan></text>
<text transform="translate(160.6 1647.0) scale(1 1.0800)" text-anchor="start" xml:space="preserve"><tspan font-size="83.0">10</tspan><tspan font-size="47.0" dy="-44.44" dx="-1.0">0</tspan></text>
<text transform="translate(160.6 1279.3) scale(1 1.0800)" text-anchor="start" xml:space="preserve"><tspan font-size="83.0">10</tspan><tspan font-size="47.0" dy="-44.44" dx="-1.0">1</tspan></text>
<text transform="translate(160.6 911.6) scale(1 1.0800)" text-anchor="start" xml:space="preserve"><tspan font-size="83.0">10</tspan><tspan font-size="47.0" dy="-44.44" dx="-1.0">2</tspan></text>
<text transform="translate(160.6 543.9) scale(1 1.0800)" text-anchor="start" xml:space="preserve"><tspan font-size="83.0">10</tspan><tspan font-size="47.0" dy="-44.44" dx="-1.0">3</tspan></text>
<text transform="translate(1264.4 76.0) scale(1 1.1200)" text-anchor="start" xml:space="preserve"><tspan font-size="75.0">T (K)</tspan></text>
<text transform="translate(1123.0 2049.5) scale(1 1.1200)" text-anchor="start" xml:space="preserve"><tspan font-size="95.0">10</tspan><tspan font-size="57.0" dy="-50.00">3</tspan><tspan font-size="95.0" dy="50.00">/T  (K</tspan><tspan font-size="57.0" dy="-50.00">-1</tspan><tspan font-size="95.0" dy="50.00">)</tspan></text>
<text transform="translate(110.3 1182.0) rotate(-90) scale(1.0670 1.1200)" text-anchor="start" xml:space="preserve"><tspan font-size="95.0">R</tspan><tspan font-size="57.0" dy="32.59">1</tspan><tspan font-size="95.0" dy="-32.59">  (s</tspan><tspan font-size="57.0" dy="-44.64">-1</tspan><tspan font-size="95.0" dy="44.64">)</tspan></text>
<text transform="translate(1559.2 382.5) scale(1 1.1200)" text-anchor="start" xml:space="preserve"><tspan font-size="75.0">Na</tspan><tspan font-size="43.0" dy="27.68">2</tspan><tspan font-size="75.0" dy="-27.68">(CB</tspan><tspan font-size="43.0" dy="27.68">9</tspan><tspan font-size="75.0" dy="-27.68">H</tspan><tspan font-size="43.0" dy="27.68">10</tspan><tspan font-size="75.0" dy="-27.68">)(CB</tspan><tspan font-size="43.0" dy="27.68">11</tspan><tspan font-size="75.0" dy="-27.68" dx="5.5">H</tspan><tspan font-size="43.0" dy="27.68" dx="1.0">12</tspan><tspan font-size="75.0" dy="-27.68" dx="2.5">)</tspan></text>
<ellipse cx="1642.8" cy="574.6" rx="21.6" ry="23.0" fill="#000"/>
<ellipse cx="1642.8" cy="687.7" rx="20.6" ry="21.9" fill="none" stroke="#111" stroke-width="2.6"/>
<ellipse cx="1642.8" cy="801.4" rx="21.8" ry="23.2" fill="#ff0000"/>
<text transform="translate(1725.5 602.9) scale(1 1.1200)" text-anchor="start" xml:space="preserve"><tspan font-size="43.0" dy="-40.71">1</tspan><tspan font-size="75.0" dy="40.71">H, 14 MHz</tspan></text>
<text transform="translate(1725.5 716.4) scale(1 1.1200)" text-anchor="start" xml:space="preserve"><tspan font-size="43.0" dy="-40.71">1</tspan><tspan font-size="75.0" dy="40.71">H, 28 MHz</tspan></text>
<text transform="translate(1725.5 829.9) scale(1 1.1200)" text-anchor="start" xml:space="preserve"><tspan font-size="43.0" dy="-40.71">23</tspan><tspan font-size="75.0" dy="40.71">Na, 23 MHz</tspan></text>
</svg>
</body></html>
